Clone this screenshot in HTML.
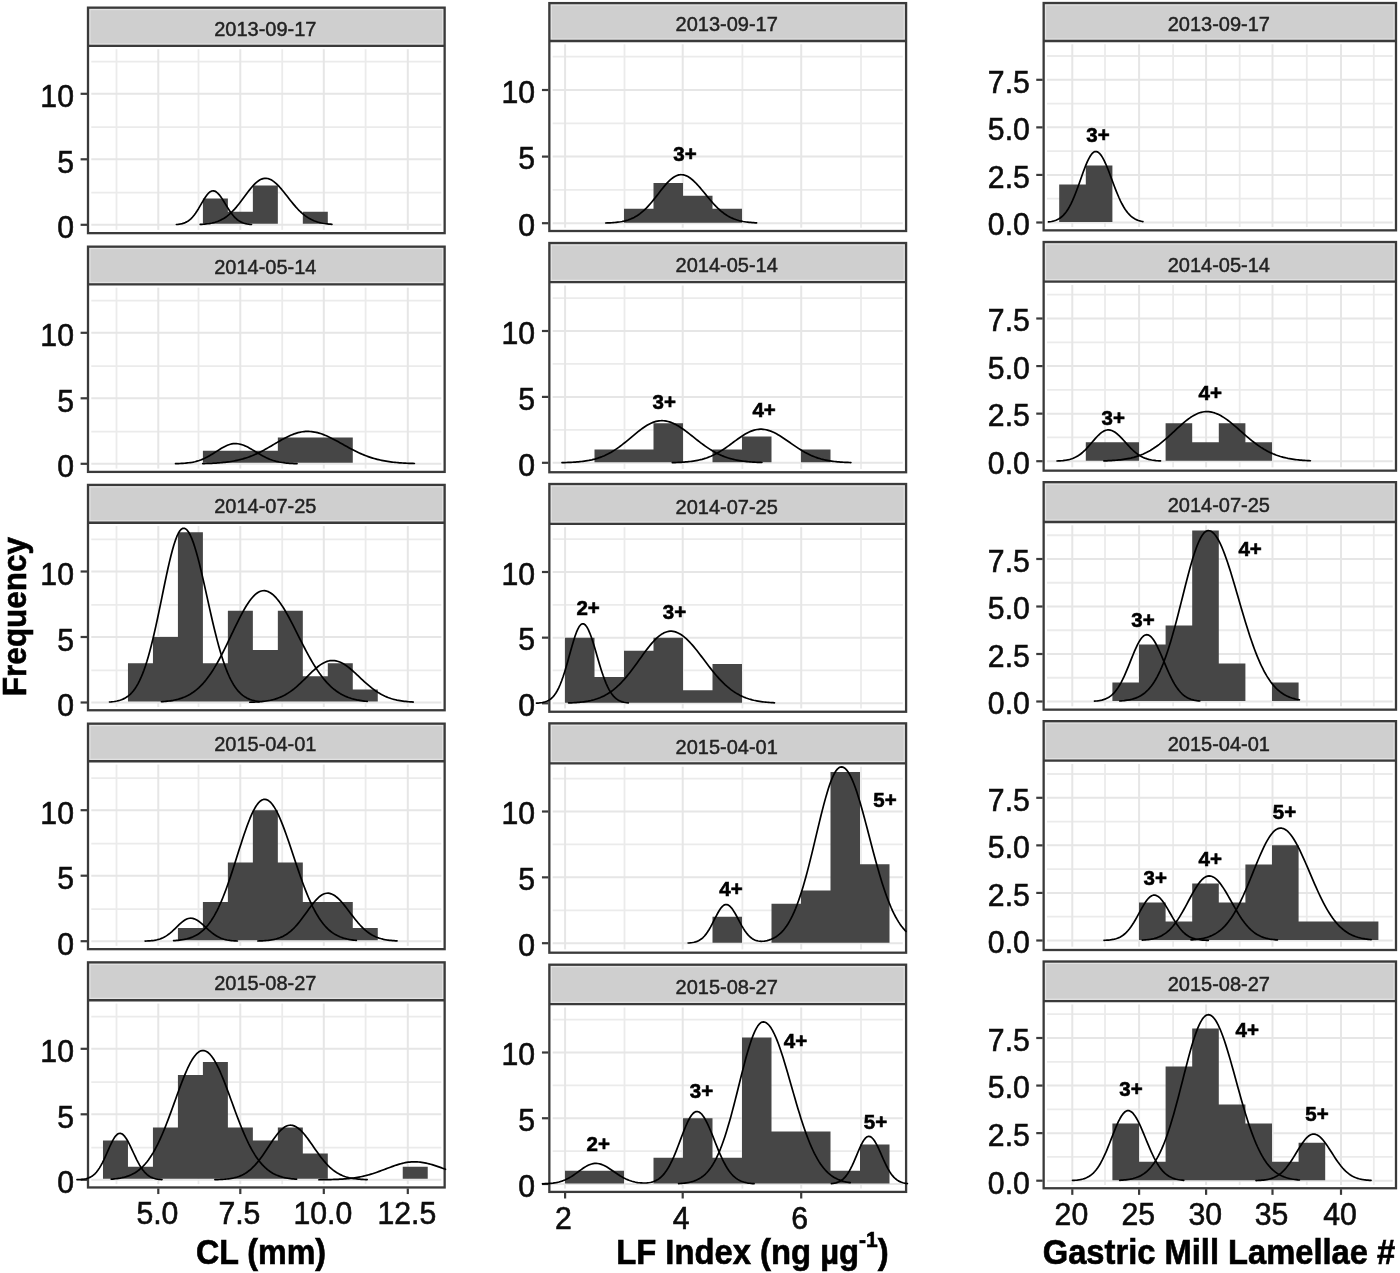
<!DOCTYPE html>
<html><head><meta charset="utf-8"><title>Frequency histograms</title>
<style>html,body{margin:0;padding:0;background:#fff}svg{display:block;filter:blur(0.55px)}</style></head>
<body>
<svg width="1400" height="1273" viewBox="0 0 1400 1273" font-family="Liberation Sans, sans-serif">
<rect width="1400" height="1273" fill="#fff"/>
<g>
<rect x="88" y="7.65" width="356.65" height="38.25" fill="#cfcfcf"/>
<rect x="89.9" y="9.55" width="352.85" height="34.45" fill="none" stroke="#e3e3e3" stroke-width="1.2"/>
<line x1="91.3" x2="441.35" y1="192.65" y2="192.65" stroke="#ebebeb" stroke-width="1.8"/>
<line x1="91.3" x2="441.35" y1="127.15" y2="127.15" stroke="#ebebeb" stroke-width="1.8"/>
<line x1="91.3" x2="441.35" y1="61.65" y2="61.65" stroke="#ebebeb" stroke-width="1.8"/>
<line x1="116.5" x2="116.5" y1="49.2" y2="229.85" stroke="#ebebeb" stroke-width="1.8"/>
<line x1="198.5" x2="198.5" y1="49.2" y2="229.85" stroke="#ebebeb" stroke-width="1.8"/>
<line x1="282.2" x2="282.2" y1="49.2" y2="229.85" stroke="#ebebeb" stroke-width="1.8"/>
<line x1="365.6" x2="365.6" y1="49.2" y2="229.85" stroke="#ebebeb" stroke-width="1.8"/>
<line x1="91.3" x2="441.35" y1="224.8" y2="224.8" stroke="#e6e6e6" stroke-width="2"/>
<line x1="91.3" x2="441.35" y1="159.3" y2="159.3" stroke="#e6e6e6" stroke-width="2"/>
<line x1="91.3" x2="441.35" y1="93.8" y2="93.8" stroke="#e6e6e6" stroke-width="2"/>
<line x1="158.3" x2="158.3" y1="49.2" y2="229.85" stroke="#e6e6e6" stroke-width="2"/>
<line x1="240.3" x2="240.3" y1="49.2" y2="229.85" stroke="#e6e6e6" stroke-width="2"/>
<line x1="323.8" x2="323.8" y1="49.2" y2="229.85" stroke="#e6e6e6" stroke-width="2"/>
<line x1="407.8" x2="407.8" y1="49.2" y2="229.85" stroke="#e6e6e6" stroke-width="2"/>
<path d="M202.9,223.8L202.9,198.6L227.88,198.6L227.88,211.7L252.86,211.7L252.86,185.5L277.84,185.5L277.84,223.8ZM302.82,223.8L302.82,211.7L327.8,211.7L327.8,223.8Z" fill="#464646"/>
<rect x="88" y="7.65" width="356.65" height="225.5" fill="none" stroke="#3a3a3a" stroke-width="2.3"/>
<line x1="88" x2="444.65" y1="45.9" y2="45.9" stroke="#3a3a3a" stroke-width="2.3"/>
<text x="265.32" y="36" font-size="20" text-anchor="middle" fill="#222" stroke="#222" stroke-width="0.45">2013-09-17</text>
<line x1="80.6" x2="87" y1="224.8" y2="224.8" stroke="#3a3a3a" stroke-width="2.2"/>
<text transform="translate(74,238.4) scale(0.975,1)" font-size="31" text-anchor="end" fill="#0d0d0d" stroke="#0d0d0d" stroke-width="0.6">0</text>
<line x1="80.6" x2="87" y1="159.3" y2="159.3" stroke="#3a3a3a" stroke-width="2.2"/>
<text transform="translate(74,172.9) scale(0.975,1)" font-size="31" text-anchor="end" fill="#0d0d0d" stroke="#0d0d0d" stroke-width="0.6">5</text>
<line x1="80.6" x2="87" y1="93.8" y2="93.8" stroke="#3a3a3a" stroke-width="2.2"/>
<text transform="translate(74,107.4) scale(0.975,1)" font-size="31" text-anchor="end" fill="#0d0d0d" stroke="#0d0d0d" stroke-width="0.6">10</text>
<polyline points="176.4,224.51 177.87,224.37 179.35,224.19 180.82,223.94 182.29,223.6 183.76,223.16 185.24,222.59 186.71,221.87 188.18,220.97 189.65,219.88 191.13,218.57 192.6,217.03 194.07,215.26 195.54,213.26 197.02,211.06 198.49,208.69 199.96,206.19 201.43,203.64 202.91,201.11 204.38,198.68 205.85,196.44 207.32,194.47 208.8,192.87 210.27,191.69 211.74,190.99 213.21,190.8 214.69,191.11 216.16,191.87 217.63,193.06 219.1,194.62 220.58,196.51 222.05,198.64 223.52,200.94 224.99,203.34 226.47,205.77 227.94,208.15 229.41,210.44 230.88,212.58 232.36,214.55 233.83,216.32 235.3,217.88 236.77,219.23 238.25,220.38 239.72,221.34 241.19,222.13 242.66,222.77 244.14,223.27 245.61,223.67 247.08,223.97 248.55,224.2 250.03,224.38 251.5,224.5" fill="none" stroke="#000" stroke-width="1.7" stroke-linejoin="round" stroke-linecap="round"/>
<polyline points="200.2,224.44 201.7,224.35 203.19,224.25 204.69,224.12 206.19,223.96 207.68,223.77 209.18,223.55 210.68,223.29 212.17,222.98 213.67,222.63 215.17,222.21 216.66,221.73 218.16,221.19 219.66,220.56 221.15,219.86 222.65,219.06 224.15,218.17 225.64,217.19 227.14,216.1 228.64,214.9 230.13,213.6 231.63,212.2 233.12,210.69 234.62,209.08 236.12,207.37 237.61,205.58 239.11,203.72 240.61,201.79 242.1,199.82 243.6,197.81 245.1,195.79 246.59,193.78 248.09,191.8 249.59,189.87 251.08,188.02 252.58,186.27 254.08,184.65 255.57,183.17 257.07,181.85 258.57,180.72 260.06,179.79 261.56,179.08 263.06,178.59 264.55,178.34 266.05,178.32 267.55,178.52 269.04,178.93 270.54,179.55 272.04,180.37 273.53,181.37 275.03,182.55 276.53,183.88 278.02,185.36 279.52,186.95 281.02,188.66 282.51,190.44 284.01,192.28 285.51,194.17 287,196.09 288.5,198 290,199.91 291.49,201.78 292.99,203.62 294.49,205.39 295.98,207.1 297.48,208.74 298.97,210.29 300.47,211.75 301.97,213.12 303.46,214.39 304.96,215.57 306.46,216.65 307.95,217.64 309.45,218.54 310.95,219.35 312.44,220.07 313.94,220.72 315.44,221.3 316.93,221.81 318.43,222.25 319.93,222.64 321.42,222.98 322.92,223.28 324.42,223.53 325.91,223.74 327.41,223.92 328.91,224.08 330.4,224.21 331.9,224.32" fill="none" stroke="#000" stroke-width="1.7" stroke-linejoin="round" stroke-linecap="round"/>
</g>
<g>
<rect x="88" y="246.65" width="356.65" height="37.7" fill="#cfcfcf"/>
<rect x="89.9" y="248.55" width="352.85" height="33.9" fill="none" stroke="#e3e3e3" stroke-width="1.2"/>
<line x1="91.3" x2="441.35" y1="431.65" y2="431.65" stroke="#ebebeb" stroke-width="1.8"/>
<line x1="91.3" x2="441.35" y1="366.15" y2="366.15" stroke="#ebebeb" stroke-width="1.8"/>
<line x1="91.3" x2="441.35" y1="300.65" y2="300.65" stroke="#ebebeb" stroke-width="1.8"/>
<line x1="116.5" x2="116.5" y1="287.65" y2="468.6" stroke="#ebebeb" stroke-width="1.8"/>
<line x1="198.5" x2="198.5" y1="287.65" y2="468.6" stroke="#ebebeb" stroke-width="1.8"/>
<line x1="282.2" x2="282.2" y1="287.65" y2="468.6" stroke="#ebebeb" stroke-width="1.8"/>
<line x1="365.6" x2="365.6" y1="287.65" y2="468.6" stroke="#ebebeb" stroke-width="1.8"/>
<line x1="91.3" x2="441.35" y1="463.8" y2="463.8" stroke="#e6e6e6" stroke-width="2"/>
<line x1="91.3" x2="441.35" y1="398.3" y2="398.3" stroke="#e6e6e6" stroke-width="2"/>
<line x1="91.3" x2="441.35" y1="332.8" y2="332.8" stroke="#e6e6e6" stroke-width="2"/>
<line x1="158.3" x2="158.3" y1="287.65" y2="468.6" stroke="#e6e6e6" stroke-width="2"/>
<line x1="240.3" x2="240.3" y1="287.65" y2="468.6" stroke="#e6e6e6" stroke-width="2"/>
<line x1="323.8" x2="323.8" y1="287.65" y2="468.6" stroke="#e6e6e6" stroke-width="2"/>
<line x1="407.8" x2="407.8" y1="287.65" y2="468.6" stroke="#e6e6e6" stroke-width="2"/>
<path d="M202.9,462.8L202.9,450.7L227.88,450.7L227.88,450.7L252.86,450.7L252.86,450.7L277.84,450.7L277.84,437.6L302.82,437.6L302.82,437.6L327.8,437.6L327.8,437.6L352.78,437.6L352.78,462.8Z" fill="#464646"/>
<rect x="88" y="246.65" width="356.65" height="225.25" fill="none" stroke="#3a3a3a" stroke-width="2.3"/>
<line x1="88" x2="444.65" y1="284.35" y2="284.35" stroke="#3a3a3a" stroke-width="2.3"/>
<text x="265.32" y="274.45" font-size="20" text-anchor="middle" fill="#222" stroke="#222" stroke-width="0.45">2014-05-14</text>
<line x1="80.6" x2="87" y1="463.8" y2="463.8" stroke="#3a3a3a" stroke-width="2.2"/>
<text transform="translate(74,477.4) scale(0.975,1)" font-size="31" text-anchor="end" fill="#0d0d0d" stroke="#0d0d0d" stroke-width="0.6">0</text>
<line x1="80.6" x2="87" y1="398.3" y2="398.3" stroke="#3a3a3a" stroke-width="2.2"/>
<text transform="translate(74,411.9) scale(0.975,1)" font-size="31" text-anchor="end" fill="#0d0d0d" stroke="#0d0d0d" stroke-width="0.6">5</text>
<line x1="80.6" x2="87" y1="332.8" y2="332.8" stroke="#3a3a3a" stroke-width="2.2"/>
<text transform="translate(74,346.4) scale(0.975,1)" font-size="31" text-anchor="end" fill="#0d0d0d" stroke="#0d0d0d" stroke-width="0.6">10</text>
<polyline points="175.5,463.66 176.98,463.62 178.46,463.57 179.95,463.51 181.43,463.44 182.91,463.35 184.39,463.24 185.87,463.11 187.35,462.96 188.84,462.78 190.32,462.57 191.8,462.33 193.28,462.05 194.76,461.73 196.24,461.36 197.73,460.94 199.21,460.48 200.69,459.96 202.17,459.38 203.65,458.75 205.13,458.07 206.62,457.34 208.1,456.55 209.58,455.72 211.06,454.85 212.54,453.94 214.02,453.01 215.51,452.06 216.99,451.1 218.47,450.16 219.95,449.22 221.43,448.32 222.91,447.47 224.4,446.67 225.88,445.94 227.36,445.29 228.84,444.73 230.32,444.28 231.8,443.94 233.29,443.71 234.77,443.61 236.25,443.62 237.73,443.75 239.21,443.98 240.7,444.32 242.18,444.76 243.66,445.29 245.14,445.9 246.62,446.59 248.1,447.34 249.59,448.15 251.07,449 252.55,449.87 254.03,450.77 255.51,451.68 256.99,452.58 258.48,453.48 259.96,454.35 261.44,455.2 262.92,456.02 264.4,456.79 265.88,457.53 267.37,458.21 268.85,458.85 270.33,459.44 271.81,459.98 273.29,460.48 274.77,460.92 276.26,461.32 277.74,461.67 279.22,461.99 280.7,462.26 282.18,462.51 283.66,462.71 285.15,462.9 286.63,463.05 288.11,463.18 289.59,463.29 291.07,463.39 292.55,463.46 294.04,463.53 295.52,463.58 297,463.63" fill="none" stroke="#000" stroke-width="1.7" stroke-linejoin="round" stroke-linecap="round"/>
<polyline points="202.7,463.57 204.19,463.54 205.68,463.5 207.17,463.46 208.66,463.41 210.15,463.35 211.65,463.29 213.14,463.22 214.63,463.14 216.12,463.06 217.61,462.96 219.1,462.85 220.59,462.74 222.08,462.6 223.57,462.46 225.06,462.3 226.55,462.13 228.04,461.94 229.54,461.73 231.03,461.5 232.52,461.25 234.01,460.98 235.5,460.69 236.99,460.38 238.48,460.04 239.97,459.68 241.46,459.29 242.95,458.88 244.44,458.43 245.93,457.96 247.43,457.47 248.92,456.94 250.41,456.38 251.9,455.8 253.39,455.18 254.88,454.54 256.37,453.87 257.86,453.17 259.35,452.44 260.84,451.69 262.33,450.92 263.82,450.13 265.32,449.31 266.81,448.48 268.3,447.63 269.79,446.77 271.28,445.9 272.77,445.02 274.26,444.14 275.75,443.26 277.24,442.38 278.73,441.52 280.22,440.66 281.71,439.81 283.21,438.99 284.7,438.19 286.19,437.42 287.68,436.67 289.17,435.97 290.66,435.3 292.15,434.67 293.64,434.1 295.13,433.57 296.62,433.09 298.11,432.67 299.6,432.3 301.1,432 302.59,431.75 304.08,431.57 305.57,431.45 307.06,431.4 308.55,431.41 310.04,431.49 311.53,431.61 313.02,431.8 314.51,432.04 316,432.34 317.5,432.69 318.99,433.1 320.48,433.55 321.97,434.05 323.46,434.6 324.95,435.19 326.44,435.81 327.93,436.48 329.42,437.17 330.91,437.9 332.4,438.65 333.89,439.42 335.39,440.21 336.88,441.02 338.37,441.84 339.86,442.67 341.35,443.5 342.84,444.34 344.33,445.18 345.82,446.01 347.31,446.83 348.8,447.65 350.29,448.46 351.78,449.25 353.28,450.02 354.77,450.78 356.26,451.52 357.75,452.24 359.24,452.93 360.73,453.61 362.22,454.26 363.71,454.88 365.2,455.48 366.69,456.05 368.18,456.59 369.67,457.11 371.17,457.6 372.66,458.07 374.15,458.51 375.64,458.93 377.13,459.32 378.62,459.69 380.11,460.03 381.6,460.35 383.09,460.65 384.58,460.93 386.07,461.19 387.56,461.43 389.06,461.65 390.55,461.86 392.04,462.05 393.53,462.22 395.02,462.38 396.51,462.52 398,462.66 399.49,462.78 400.98,462.88 402.47,462.98 403.96,463.07 405.45,463.15 406.95,463.23 408.44,463.29 409.93,463.35 411.42,463.41 412.91,463.45 414.4,463.49" fill="none" stroke="#000" stroke-width="1.7" stroke-linejoin="round" stroke-linecap="round"/>
</g>
<g>
<rect x="88" y="484.9" width="356.65" height="37.85" fill="#cfcfcf"/>
<rect x="89.9" y="486.8" width="352.85" height="34.05" fill="none" stroke="#e3e3e3" stroke-width="1.2"/>
<line x1="91.3" x2="441.35" y1="670.35" y2="670.35" stroke="#ebebeb" stroke-width="1.8"/>
<line x1="91.3" x2="441.35" y1="604.85" y2="604.85" stroke="#ebebeb" stroke-width="1.8"/>
<line x1="91.3" x2="441.35" y1="539.35" y2="539.35" stroke="#ebebeb" stroke-width="1.8"/>
<line x1="116.5" x2="116.5" y1="526.05" y2="706.95" stroke="#ebebeb" stroke-width="1.8"/>
<line x1="198.5" x2="198.5" y1="526.05" y2="706.95" stroke="#ebebeb" stroke-width="1.8"/>
<line x1="282.2" x2="282.2" y1="526.05" y2="706.95" stroke="#ebebeb" stroke-width="1.8"/>
<line x1="365.6" x2="365.6" y1="526.05" y2="706.95" stroke="#ebebeb" stroke-width="1.8"/>
<line x1="91.3" x2="441.35" y1="702.5" y2="702.5" stroke="#e6e6e6" stroke-width="2"/>
<line x1="91.3" x2="441.35" y1="637" y2="637" stroke="#e6e6e6" stroke-width="2"/>
<line x1="91.3" x2="441.35" y1="571.5" y2="571.5" stroke="#e6e6e6" stroke-width="2"/>
<line x1="158.3" x2="158.3" y1="526.05" y2="706.95" stroke="#e6e6e6" stroke-width="2"/>
<line x1="240.3" x2="240.3" y1="526.05" y2="706.95" stroke="#e6e6e6" stroke-width="2"/>
<line x1="323.8" x2="323.8" y1="526.05" y2="706.95" stroke="#e6e6e6" stroke-width="2"/>
<line x1="407.8" x2="407.8" y1="526.05" y2="706.95" stroke="#e6e6e6" stroke-width="2"/>
<path d="M127.96,701.5L127.96,663.2L152.94,663.2L152.94,637L177.92,637L177.92,532.2L202.9,532.2L202.9,663.2L227.88,663.2L227.88,610.8L252.86,610.8L252.86,650.1L277.84,650.1L277.84,610.8L302.82,610.8L302.82,676.3L327.8,676.3L327.8,663.2L352.78,663.2L352.78,689.4L377.76,689.4L377.76,701.5Z" fill="#464646"/>
<rect x="88" y="484.9" width="356.65" height="225.35" fill="none" stroke="#3a3a3a" stroke-width="2.3"/>
<line x1="88" x2="444.65" y1="522.75" y2="522.75" stroke="#3a3a3a" stroke-width="2.3"/>
<text x="265.32" y="512.85" font-size="20" text-anchor="middle" fill="#222" stroke="#222" stroke-width="0.45">2014-07-25</text>
<line x1="80.6" x2="87" y1="702.5" y2="702.5" stroke="#3a3a3a" stroke-width="2.2"/>
<text transform="translate(74,716.1) scale(0.975,1)" font-size="31" text-anchor="end" fill="#0d0d0d" stroke="#0d0d0d" stroke-width="0.6">0</text>
<line x1="80.6" x2="87" y1="637" y2="637" stroke="#3a3a3a" stroke-width="2.2"/>
<text transform="translate(74,650.6) scale(0.975,1)" font-size="31" text-anchor="end" fill="#0d0d0d" stroke="#0d0d0d" stroke-width="0.6">5</text>
<line x1="80.6" x2="87" y1="571.5" y2="571.5" stroke="#3a3a3a" stroke-width="2.2"/>
<text transform="translate(74,585.1) scale(0.975,1)" font-size="31" text-anchor="end" fill="#0d0d0d" stroke="#0d0d0d" stroke-width="0.6">10</text>
<polyline points="109.5,702.01 111,701.89 112.49,701.73 113.99,701.53 115.49,701.29 116.98,701 118.48,700.65 119.98,700.22 121.48,699.71 122.97,699.11 124.47,698.39 125.97,697.54 127.46,696.55 128.96,695.39 130.46,694.05 131.95,692.5 133.45,690.73 134.95,688.71 136.45,686.41 137.94,683.83 139.44,680.94 140.94,677.72 142.43,674.15 143.93,670.22 145.43,665.93 146.93,661.26 148.42,656.23 149.92,650.82 151.42,645.06 152.91,638.96 154.41,632.56 155.91,625.88 157.4,618.96 158.9,611.85 160.4,604.61 161.9,597.3 163.39,589.98 164.89,582.73 166.39,575.62 167.88,568.74 169.38,562.16 170.88,555.96 172.37,550.22 173.87,545.01 175.37,540.41 176.87,536.47 178.36,533.25 179.86,530.79 181.36,529.14 182.85,528.3 184.35,528.29 185.85,529 187.34,530.42 188.84,532.52 190.34,535.28 191.83,538.67 193.33,542.64 194.83,547.16 196.33,552.16 197.82,557.6 199.32,563.41 200.82,569.53 202.31,575.91 203.81,582.47 205.31,589.15 206.81,595.9 208.3,602.66 209.8,609.37 211.3,615.98 212.79,622.46 214.29,628.75 215.79,634.82 217.28,640.65 218.78,646.21 220.28,651.47 221.78,656.44 223.27,661.09 224.77,665.42 226.27,669.43 227.76,673.13 229.26,676.53 230.76,679.62 232.25,682.43 233.75,684.97 235.25,687.24 236.74,689.28 238.24,691.09 239.74,692.69 241.24,694.11 242.73,695.35 244.23,696.43 245.73,697.36 247.22,698.18 248.72,698.87 250.22,699.47 251.71,699.98 253.21,700.41 254.71,700.78 256.21,701.09 257.7,701.34 259.2,701.56" fill="none" stroke="#000" stroke-width="1.7" stroke-linejoin="round" stroke-linecap="round"/>
<polyline points="161.4,701.77 162.89,701.65 164.38,701.52 165.87,701.37 167.37,701.2 168.86,701.01 170.35,700.8 171.84,700.56 173.33,700.29 174.82,699.98 176.31,699.65 177.8,699.27 179.3,698.85 180.79,698.39 182.28,697.87 183.77,697.31 185.26,696.68 186.75,696 188.24,695.25 189.73,694.43 191.23,693.54 192.72,692.57 194.21,691.52 195.7,690.39 197.19,689.16 198.68,687.85 200.17,686.44 201.67,684.93 203.16,683.31 204.65,681.6 206.14,679.78 207.63,677.85 209.12,675.82 210.61,673.68 212.1,671.44 213.6,669.09 215.09,666.65 216.58,664.1 218.07,661.46 219.56,658.74 221.05,655.93 222.54,653.05 224.03,650.1 225.53,647.1 227.02,644.04 228.51,640.95 230,637.84 231.49,634.71 232.98,631.58 234.47,628.46 235.97,625.38 237.46,622.33 238.95,619.34 240.44,616.43 241.93,613.6 243.42,610.88 244.91,608.27 246.4,605.79 247.9,603.46 249.39,601.29 250.88,599.3 252.37,597.49 253.86,595.87 255.35,594.46 256.84,593.26 258.33,592.29 259.83,591.54 261.32,591.03 262.81,590.75 264.3,590.71 265.79,590.89 267.28,591.28 268.77,591.89 270.27,592.7 271.76,593.72 273.25,594.93 274.74,596.34 276.23,597.93 277.72,599.69 279.21,601.62 280.7,603.7 282.2,605.92 283.69,608.28 285.18,610.75 286.67,613.33 288.16,616.01 289.65,618.77 291.14,621.59 292.63,624.47 294.13,627.39 295.62,630.34 297.11,633.31 298.6,636.29 300.09,639.25 301.58,642.2 303.07,645.13 304.57,648.01 306.06,650.86 307.55,653.64 309.04,656.37 310.53,659.02 312.02,661.61 313.51,664.11 315,666.53 316.5,668.86 317.99,671.1 319.48,673.25 320.97,675.3 322.46,677.26 323.95,679.12 325.44,680.89 326.93,682.56 328.43,684.14 329.92,685.62 331.41,687.02 332.9,688.32 334.39,689.55 335.88,690.69 337.37,691.74 338.87,692.73 340.36,693.64 341.85,694.48 343.34,695.25 344.83,695.97 346.32,696.62 347.81,697.22 349.3,697.77 350.8,698.27 352.29,698.72 353.78,699.13 355.27,699.5 356.76,699.84 358.25,700.14 359.74,700.41 361.23,700.66 362.73,700.88 364.22,701.07 365.71,701.25 367.2,701.4" fill="none" stroke="#000" stroke-width="1.7" stroke-linejoin="round" stroke-linecap="round"/>
<polyline points="249.7,702.27 251.19,702.22 252.67,702.16 254.16,702.1 255.65,702.02 257.14,701.93 258.62,701.83 260.11,701.71 261.6,701.57 263.09,701.41 264.57,701.23 266.06,701.02 267.55,700.78 269.03,700.51 270.52,700.21 272.01,699.87 273.5,699.49 274.98,699.07 276.47,698.6 277.96,698.08 279.45,697.51 280.93,696.89 282.42,696.21 283.91,695.47 285.39,694.67 286.88,693.8 288.37,692.88 289.86,691.89 291.34,690.83 292.83,689.72 294.32,688.55 295.81,687.32 297.29,686.04 298.78,684.71 300.27,683.34 301.75,681.93 303.24,680.49 304.73,679.03 306.22,677.56 307.7,676.08 309.19,674.61 310.68,673.16 312.17,671.73 313.65,670.34 315.14,669.01 316.63,667.74 318.11,666.53 319.6,665.42 321.09,664.39 322.58,663.47 324.06,662.66 325.55,661.97 327.04,661.41 328.53,660.98 330.01,660.68 331.5,660.53 332.99,660.51 334.47,660.62 335.96,660.86 337.45,661.23 338.94,661.71 340.42,662.31 341.91,663.03 343.4,663.84 344.89,664.76 346.37,665.76 347.86,666.85 349.35,668.01 350.83,669.23 352.32,670.51 353.81,671.83 355.3,673.18 356.78,674.57 358.27,675.96 359.76,677.36 361.25,678.76 362.73,680.15 364.22,681.53 365.71,682.88 367.19,684.19 368.68,685.47 370.17,686.71 371.66,687.9 373.14,689.05 374.63,690.14 376.12,691.18 377.61,692.16 379.09,693.08 380.58,693.95 382.07,694.77 383.55,695.52 385.04,696.22 386.53,696.87 388.02,697.47 389.5,698.01 390.99,698.51 392.48,698.97 393.97,699.38 395.45,699.75 396.94,700.09 398.43,700.39 399.91,700.66 401.4,700.9 402.89,701.11 404.38,701.3 405.86,701.46 407.35,701.61 408.84,701.74 410.33,701.85 411.81,701.94 413.3,702.03" fill="none" stroke="#000" stroke-width="1.7" stroke-linejoin="round" stroke-linecap="round"/>
</g>
<g>
<rect x="88" y="723.65" width="356.65" height="37.6" fill="#cfcfcf"/>
<rect x="89.9" y="725.55" width="352.85" height="33.8" fill="none" stroke="#e3e3e3" stroke-width="1.2"/>
<line x1="91.3" x2="441.35" y1="909.05" y2="909.05" stroke="#ebebeb" stroke-width="1.8"/>
<line x1="91.3" x2="441.35" y1="843.55" y2="843.55" stroke="#ebebeb" stroke-width="1.8"/>
<line x1="91.3" x2="441.35" y1="778.05" y2="778.05" stroke="#ebebeb" stroke-width="1.8"/>
<line x1="116.5" x2="116.5" y1="764.55" y2="945.85" stroke="#ebebeb" stroke-width="1.8"/>
<line x1="198.5" x2="198.5" y1="764.55" y2="945.85" stroke="#ebebeb" stroke-width="1.8"/>
<line x1="282.2" x2="282.2" y1="764.55" y2="945.85" stroke="#ebebeb" stroke-width="1.8"/>
<line x1="365.6" x2="365.6" y1="764.55" y2="945.85" stroke="#ebebeb" stroke-width="1.8"/>
<line x1="91.3" x2="441.35" y1="941.2" y2="941.2" stroke="#e6e6e6" stroke-width="2"/>
<line x1="91.3" x2="441.35" y1="875.7" y2="875.7" stroke="#e6e6e6" stroke-width="2"/>
<line x1="91.3" x2="441.35" y1="810.2" y2="810.2" stroke="#e6e6e6" stroke-width="2"/>
<line x1="158.3" x2="158.3" y1="764.55" y2="945.85" stroke="#e6e6e6" stroke-width="2"/>
<line x1="240.3" x2="240.3" y1="764.55" y2="945.85" stroke="#e6e6e6" stroke-width="2"/>
<line x1="323.8" x2="323.8" y1="764.55" y2="945.85" stroke="#e6e6e6" stroke-width="2"/>
<line x1="407.8" x2="407.8" y1="764.55" y2="945.85" stroke="#e6e6e6" stroke-width="2"/>
<path d="M177.92,940.2L177.92,928.1L202.9,928.1L202.9,901.9L227.88,901.9L227.88,862.6L252.86,862.6L252.86,810.2L277.84,810.2L277.84,862.6L302.82,862.6L302.82,901.9L327.8,901.9L327.8,901.9L352.78,901.9L352.78,928.1L377.76,928.1L377.76,940.2Z" fill="#464646"/>
<rect x="88" y="723.65" width="356.65" height="225.5" fill="none" stroke="#3a3a3a" stroke-width="2.3"/>
<line x1="88" x2="444.65" y1="761.25" y2="761.25" stroke="#3a3a3a" stroke-width="2.3"/>
<text x="265.32" y="751.35" font-size="20" text-anchor="middle" fill="#222" stroke="#222" stroke-width="0.45">2015-04-01</text>
<line x1="80.6" x2="87" y1="941.2" y2="941.2" stroke="#3a3a3a" stroke-width="2.2"/>
<text transform="translate(74,954.8) scale(0.975,1)" font-size="31" text-anchor="end" fill="#0d0d0d" stroke="#0d0d0d" stroke-width="0.6">0</text>
<line x1="80.6" x2="87" y1="875.7" y2="875.7" stroke="#3a3a3a" stroke-width="2.2"/>
<text transform="translate(74,889.3) scale(0.975,1)" font-size="31" text-anchor="end" fill="#0d0d0d" stroke="#0d0d0d" stroke-width="0.6">5</text>
<line x1="80.6" x2="87" y1="810.2" y2="810.2" stroke="#3a3a3a" stroke-width="2.2"/>
<text transform="translate(74,823.8) scale(0.975,1)" font-size="31" text-anchor="end" fill="#0d0d0d" stroke="#0d0d0d" stroke-width="0.6">10</text>
<polyline points="145.1,941.06 146.59,941.01 148.08,940.94 149.57,940.84 151.05,940.72 152.54,940.56 154.03,940.36 155.52,940.11 157.01,939.79 158.5,939.41 159.99,938.95 161.48,938.39 162.96,937.74 164.45,936.98 165.94,936.12 167.43,935.14 168.92,934.05 170.41,932.86 171.9,931.57 173.39,930.21 174.87,928.79 176.36,927.34 177.85,925.88 179.34,924.46 180.83,923.11 182.32,921.85 183.81,920.74 185.3,919.8 186.78,919.05 188.27,918.53 189.76,918.25 191.25,918.22 192.74,918.41 194.23,918.83 195.72,919.45 197.2,920.26 198.69,921.24 200.18,922.37 201.67,923.6 203.16,924.91 204.65,926.27 206.14,927.66 207.63,929.03 209.11,930.37 210.6,931.66 212.09,932.88 213.58,934.01 215.07,935.05 216.56,935.99 218.05,936.84 219.54,937.58 221.02,938.22 222.51,938.77 224,939.24 225.49,939.64 226.98,939.97 228.47,940.23 229.96,940.45 231.45,940.63 232.93,940.76 234.42,940.87 235.91,940.96 237.4,941.02" fill="none" stroke="#000" stroke-width="1.7" stroke-linejoin="round" stroke-linecap="round"/>
<polyline points="173.6,940.68 175.1,940.58 176.6,940.45 178.09,940.31 179.59,940.14 181.09,939.94 182.59,939.71 184.08,939.44 185.58,939.13 187.08,938.78 188.58,938.37 190.07,937.9 191.57,937.37 193.07,936.77 194.57,936.08 196.06,935.31 197.56,934.44 199.06,933.47 200.56,932.38 202.05,931.17 203.55,929.83 205.05,928.35 206.55,926.73 208.04,924.94 209.54,922.99 211.04,920.87 212.54,918.57 214.03,916.09 215.53,913.42 217.03,910.56 218.53,907.51 220.02,904.26 221.52,900.83 223.02,897.21 224.52,893.41 226.01,889.44 227.51,885.31 229.01,881.03 230.51,876.62 232,872.11 233.5,867.49 235,862.81 236.5,858.09 237.99,853.35 239.49,848.61 240.99,843.92 242.49,839.31 243.98,834.79 245.48,830.42 246.98,826.21 248.48,822.21 249.97,818.44 251.47,814.93 252.97,811.72 254.47,808.83 255.96,806.29 257.46,804.11 258.96,802.32 260.46,800.94 261.95,799.97 263.45,799.43 264.95,799.31 266.45,799.6 267.95,800.27 269.44,801.32 270.94,802.74 272.44,804.53 273.94,806.66 275.43,809.12 276.93,811.89 278.43,814.95 279.93,818.28 281.42,821.84 282.92,825.62 284.42,829.59 285.92,833.71 287.41,837.97 288.91,842.33 290.41,846.76 291.91,851.24 293.4,855.75 294.9,860.25 296.4,864.72 297.9,869.14 299.39,873.5 300.89,877.76 302.39,881.92 303.89,885.96 305.38,889.86 306.88,893.62 308.38,897.23 309.88,900.67 311.37,903.95 312.87,907.05 314.37,909.98 315.87,912.74 317.36,915.32 318.86,917.74 320.36,919.99 321.86,922.07 323.35,924 324.85,925.77 326.35,927.4 327.85,928.9 329.34,930.26 330.84,931.49 332.34,932.61 333.84,933.63 335.33,934.54 336.83,935.35 338.33,936.08 339.83,936.74 341.32,937.32 342.82,937.83 344.32,938.28 345.82,938.68 347.31,939.03 348.81,939.34 350.31,939.61 351.81,939.84 353.3,940.04 354.8,940.22 356.3,940.37" fill="none" stroke="#000" stroke-width="1.7" stroke-linejoin="round" stroke-linecap="round"/>
<polyline points="257.8,941.02 259.3,940.97 260.79,940.91 262.29,940.84 263.79,940.75 265.28,940.64 266.78,940.5 268.28,940.35 269.77,940.16 271.27,939.93 272.77,939.66 274.26,939.35 275.76,938.99 277.26,938.56 278.75,938.07 280.25,937.51 281.75,936.87 283.25,936.15 284.74,935.34 286.24,934.43 287.74,933.42 289.23,932.3 290.73,931.07 292.23,929.74 293.72,928.3 295.22,926.75 296.72,925.09 298.21,923.34 299.71,921.5 301.21,919.58 302.7,917.59 304.2,915.55 305.7,913.48 307.19,911.4 308.69,909.32 310.19,907.28 311.68,905.28 313.18,903.37 314.68,901.55 316.17,899.86 317.67,898.32 319.17,896.95 320.66,895.77 322.16,894.8 323.66,894.05 325.15,893.53 326.65,893.25 328.15,893.21 329.65,893.41 331.14,893.82 332.64,894.44 334.14,895.27 335.63,896.29 337.13,897.5 338.63,898.87 340.12,900.38 341.62,902.02 343.12,903.77 344.61,905.61 346.11,907.51 347.61,909.46 349.1,911.43 350.6,913.41 352.1,915.38 353.59,917.32 355.09,919.21 356.59,921.05 358.08,922.82 359.58,924.51 361.08,926.12 362.57,927.63 364.07,929.05 365.57,930.37 367.06,931.6 368.56,932.72 370.06,933.74 371.55,934.68 373.05,935.52 374.55,936.28 376.05,936.95 377.54,937.55 379.04,938.08 380.54,938.55 382.03,938.95 383.53,939.3 385.03,939.61 386.52,939.87 388.02,940.09 389.52,940.29 391.01,940.45 392.51,940.58 394.01,940.7 395.5,940.79 397,940.87" fill="none" stroke="#000" stroke-width="1.7" stroke-linejoin="round" stroke-linecap="round"/>
</g>
<g>
<rect x="88" y="962.35" width="356.65" height="37.9" fill="#cfcfcf"/>
<rect x="89.9" y="964.25" width="352.85" height="34.1" fill="none" stroke="#e3e3e3" stroke-width="1.2"/>
<line x1="91.3" x2="441.35" y1="1147.65" y2="1147.65" stroke="#ebebeb" stroke-width="1.8"/>
<line x1="91.3" x2="441.35" y1="1082.15" y2="1082.15" stroke="#ebebeb" stroke-width="1.8"/>
<line x1="91.3" x2="441.35" y1="1016.65" y2="1016.65" stroke="#ebebeb" stroke-width="1.8"/>
<line x1="116.5" x2="116.5" y1="1003.55" y2="1184.15" stroke="#ebebeb" stroke-width="1.8"/>
<line x1="198.5" x2="198.5" y1="1003.55" y2="1184.15" stroke="#ebebeb" stroke-width="1.8"/>
<line x1="282.2" x2="282.2" y1="1003.55" y2="1184.15" stroke="#ebebeb" stroke-width="1.8"/>
<line x1="365.6" x2="365.6" y1="1003.55" y2="1184.15" stroke="#ebebeb" stroke-width="1.8"/>
<line x1="91.3" x2="441.35" y1="1179.8" y2="1179.8" stroke="#e6e6e6" stroke-width="2"/>
<line x1="91.3" x2="441.35" y1="1114.3" y2="1114.3" stroke="#e6e6e6" stroke-width="2"/>
<line x1="91.3" x2="441.35" y1="1048.8" y2="1048.8" stroke="#e6e6e6" stroke-width="2"/>
<line x1="158.3" x2="158.3" y1="1003.55" y2="1184.15" stroke="#e6e6e6" stroke-width="2"/>
<line x1="240.3" x2="240.3" y1="1003.55" y2="1184.15" stroke="#e6e6e6" stroke-width="2"/>
<line x1="323.8" x2="323.8" y1="1003.55" y2="1184.15" stroke="#e6e6e6" stroke-width="2"/>
<line x1="407.8" x2="407.8" y1="1003.55" y2="1184.15" stroke="#e6e6e6" stroke-width="2"/>
<path d="M102.98,1178.8L102.98,1140.5L127.96,1140.5L127.96,1166.7L152.94,1166.7L152.94,1127.4L177.92,1127.4L177.92,1075L202.9,1075L202.9,1061.9L227.88,1061.9L227.88,1127.4L252.86,1127.4L252.86,1140.5L277.84,1140.5L277.84,1127.4L302.82,1127.4L302.82,1153.6L327.8,1153.6L327.8,1178.8ZM402.74,1178.8L402.74,1166.7L427.72,1166.7L427.72,1178.8Z" fill="#464646"/>
<rect x="88" y="962.35" width="356.65" height="225.1" fill="none" stroke="#3a3a3a" stroke-width="2.3"/>
<line x1="88" x2="444.65" y1="1000.25" y2="1000.25" stroke="#3a3a3a" stroke-width="2.3"/>
<text x="265.32" y="990.35" font-size="20" text-anchor="middle" fill="#222" stroke="#222" stroke-width="0.45">2015-08-27</text>
<line x1="80.6" x2="87" y1="1179.8" y2="1179.8" stroke="#3a3a3a" stroke-width="2.2"/>
<text transform="translate(74,1193.4) scale(0.975,1)" font-size="31" text-anchor="end" fill="#0d0d0d" stroke="#0d0d0d" stroke-width="0.6">0</text>
<line x1="80.6" x2="87" y1="1114.3" y2="1114.3" stroke="#3a3a3a" stroke-width="2.2"/>
<text transform="translate(74,1127.9) scale(0.975,1)" font-size="31" text-anchor="end" fill="#0d0d0d" stroke="#0d0d0d" stroke-width="0.6">5</text>
<line x1="80.6" x2="87" y1="1048.8" y2="1048.8" stroke="#3a3a3a" stroke-width="2.2"/>
<text transform="translate(74,1062.4) scale(0.975,1)" font-size="31" text-anchor="end" fill="#0d0d0d" stroke="#0d0d0d" stroke-width="0.6">10</text>
<polyline points="77,1179.69 78.49,1179.63 79.98,1179.55 81.47,1179.43 82.96,1179.27 84.46,1179.04 85.95,1178.74 87.44,1178.33 88.93,1177.8 90.42,1177.11 91.91,1176.23 93.4,1175.14 94.89,1173.81 96.39,1172.21 97.88,1170.32 99.37,1168.12 100.86,1165.63 102.35,1162.86 103.84,1159.83 105.33,1156.61 106.82,1153.25 108.32,1149.85 109.81,1146.5 111.3,1143.32 112.79,1140.4 114.28,1137.87 115.77,1135.83 117.26,1134.35 118.75,1133.5 120.25,1133.32 121.74,1133.76 123.23,1134.8 124.72,1136.39 126.21,1138.47 127.7,1140.96 129.19,1143.78 130.68,1146.84 132.18,1150.03 133.67,1153.26 135.16,1156.45 136.65,1159.52 138.14,1162.42 139.63,1165.1 141.12,1167.53 142.61,1169.69 144.11,1171.58 145.6,1173.21 147.09,1174.58 148.58,1175.72 150.07,1176.65 151.56,1177.4 153.05,1178 154.54,1178.47 156.04,1178.82 157.53,1179.09 159.02,1179.3 160.51,1179.45 162,1179.55" fill="none" stroke="#000" stroke-width="1.7" stroke-linejoin="round" stroke-linecap="round"/>
<polyline points="111.2,1179.15 112.7,1179.03 114.19,1178.89 115.69,1178.73 117.18,1178.54 118.68,1178.32 120.17,1178.07 121.67,1177.78 123.16,1177.45 124.66,1177.07 126.15,1176.64 127.65,1176.16 129.14,1175.61 130.64,1174.99 132.13,1174.3 133.63,1173.53 135.12,1172.66 136.62,1171.7 138.11,1170.64 139.61,1169.47 141.1,1168.17 142.6,1166.76 144.09,1165.21 145.59,1163.52 147.08,1161.69 148.58,1159.71 150.07,1157.58 151.57,1155.29 153.06,1152.84 154.56,1150.23 156.05,1147.45 157.55,1144.52 159.05,1141.43 160.54,1138.18 162.04,1134.78 163.53,1131.25 165.03,1127.58 166.52,1123.79 168.02,1119.9 169.51,1115.92 171.01,1111.86 172.5,1107.75 174,1103.61 175.49,1099.45 176.99,1095.31 178.48,1091.2 179.98,1087.15 181.47,1083.18 182.97,1079.33 184.46,1075.62 185.96,1072.08 187.45,1068.73 188.95,1065.6 190.44,1062.7 191.94,1060.07 193.43,1057.73 194.93,1055.69 196.42,1053.97 197.92,1052.58 199.41,1051.54 200.91,1050.85 202.4,1050.53 203.9,1050.56 205.4,1050.95 206.89,1051.69 208.39,1052.77 209.88,1054.19 211.38,1055.93 212.87,1057.98 214.37,1060.32 215.86,1062.93 217.36,1065.81 218.85,1068.91 220.35,1072.22 221.84,1075.72 223.34,1079.38 224.83,1083.18 226.33,1087.09 227.82,1091.08 229.32,1095.13 230.81,1099.22 232.31,1103.32 233.8,1107.41 235.3,1111.46 236.79,1115.47 238.29,1119.4 239.78,1123.25 241.28,1127 242.77,1130.64 244.27,1134.15 245.76,1137.52 247.26,1140.76 248.75,1143.84 250.25,1146.77 251.75,1149.54 253.24,1152.16 254.74,1154.62 256.23,1156.92 257.73,1159.07 259.22,1161.07 260.72,1162.92 262.21,1164.63 263.71,1166.21 265.2,1167.65 266.7,1168.97 268.19,1170.18 269.69,1171.27 271.18,1172.26 272.68,1173.15 274.17,1173.95 275.67,1174.67 277.16,1175.32 278.66,1175.89 280.15,1176.4 281.65,1176.85 283.14,1177.25 284.64,1177.6 286.13,1177.91 287.63,1178.18 289.12,1178.41 290.62,1178.62 292.11,1178.79 293.61,1178.94 295.1,1179.08 296.6,1179.19" fill="none" stroke="#000" stroke-width="1.7" stroke-linejoin="round" stroke-linecap="round"/>
<polyline points="214.9,1179.66 216.39,1179.62 217.89,1179.58 219.38,1179.52 220.87,1179.45 222.37,1179.37 223.86,1179.27 225.35,1179.15 226.85,1179.01 228.34,1178.83 229.83,1178.63 231.32,1178.39 232.82,1178.11 234.31,1177.78 235.8,1177.39 237.3,1176.95 238.79,1176.44 240.28,1175.87 241.78,1175.21 243.27,1174.47 244.76,1173.64 246.26,1172.71 247.75,1171.68 249.24,1170.54 250.74,1169.29 252.23,1167.93 253.72,1166.46 255.21,1164.87 256.71,1163.17 258.2,1161.37 259.69,1159.46 261.19,1157.46 262.68,1155.38 264.17,1153.23 265.67,1151.03 267.16,1148.79 268.65,1146.53 270.15,1144.27 271.64,1142.03 273.13,1139.84 274.63,1137.73 276.12,1135.7 277.61,1133.79 279.1,1132.03 280.6,1130.43 282.09,1129.01 283.58,1127.79 285.08,1126.8 286.57,1126.03 288.06,1125.51 289.56,1125.24 291.05,1125.22 292.54,1125.44 294.04,1125.88 295.53,1126.54 297.02,1127.42 298.52,1128.5 300.01,1129.76 301.5,1131.2 303,1132.8 304.49,1134.54 305.98,1136.4 307.47,1138.35 308.97,1140.38 310.46,1142.48 311.95,1144.6 313.45,1146.75 314.94,1148.9 316.43,1151.03 317.93,1153.12 319.42,1155.17 320.91,1157.15 322.41,1159.07 323.9,1160.9 325.39,1162.64 326.89,1164.28 328.38,1165.83 329.87,1167.28 331.36,1168.62 332.86,1169.86 334.35,1171 335.84,1172.05 337.34,1172.99 338.83,1173.85 340.32,1174.62 341.82,1175.31 343.31,1175.93 344.8,1176.47 346.3,1176.95 347.79,1177.37 349.28,1177.74 350.78,1178.06 352.27,1178.33 353.76,1178.57 355.25,1178.78 356.75,1178.95 358.24,1179.1 359.73,1179.22 361.23,1179.32 362.72,1179.41 364.21,1179.48 365.71,1179.54 367.2,1179.59" fill="none" stroke="#000" stroke-width="1.7" stroke-linejoin="round" stroke-linecap="round"/>
<polyline points="318.9,1179.73 320.39,1179.72 321.88,1179.71 323.37,1179.69 324.86,1179.67 326.35,1179.65 327.84,1179.62 329.33,1179.59 330.82,1179.56 332.3,1179.52 333.79,1179.47 335.28,1179.42 336.77,1179.36 338.26,1179.29 339.75,1179.22 341.24,1179.13 342.73,1179.04 344.22,1178.93 345.71,1178.81 347.2,1178.68 348.69,1178.54 350.18,1178.38 351.67,1178.2 353.16,1178.01 354.65,1177.8 356.14,1177.57 357.62,1177.33 359.11,1177.06 360.6,1176.77 362.09,1176.46 363.58,1176.13 365.07,1175.78 366.56,1175.4 368.05,1175 369.54,1174.58 371.03,1174.15 372.52,1173.69 374.01,1173.21 375.5,1172.71 376.99,1172.2 378.48,1171.67 379.97,1171.12 381.46,1170.57 382.94,1170.01 384.43,1169.44 385.92,1168.87 387.41,1168.3 388.9,1167.74 390.39,1167.18 391.88,1166.63 393.37,1166.09 394.86,1165.57 396.35,1165.07 397.84,1164.6 399.33,1164.15 400.82,1163.73 402.31,1163.35 403.8,1163 405.29,1162.7 406.78,1162.43 408.26,1162.21 409.75,1162.04 411.24,1161.91 412.73,1161.83 414.22,1161.8 415.71,1161.82 417.2,1161.88 418.69,1161.98 420.18,1162.13 421.67,1162.32 423.16,1162.55 424.65,1162.82 426.14,1163.13 427.63,1163.47 429.12,1163.84 430.61,1164.24 432.1,1164.67 433.58,1165.13 435.07,1165.6 436.56,1166.1 438.05,1166.61 439.54,1167.13 441.03,1167.66 442.52,1168.2 444.01,1168.74 445.5,1169.28" fill="none" stroke="#000" stroke-width="1.7" stroke-linejoin="round" stroke-linecap="round"/>
</g>
<line x1="158.3" x2="158.3" y1="1188.45" y2="1194.05" stroke="#3a3a3a" stroke-width="2.2"/>
<text transform="translate(157.4,1224.05) scale(0.975,1)" font-size="31" text-anchor="middle" fill="#0d0d0d" stroke="#0d0d0d" stroke-width="0.6">5.0</text>
<line x1="240.3" x2="240.3" y1="1188.45" y2="1194.05" stroke="#3a3a3a" stroke-width="2.2"/>
<text transform="translate(239.4,1224.05) scale(0.975,1)" font-size="31" text-anchor="middle" fill="#0d0d0d" stroke="#0d0d0d" stroke-width="0.6">7.5</text>
<line x1="323.8" x2="323.8" y1="1188.45" y2="1194.05" stroke="#3a3a3a" stroke-width="2.2"/>
<text transform="translate(322.9,1224.05) scale(0.975,1)" font-size="31" text-anchor="middle" fill="#0d0d0d" stroke="#0d0d0d" stroke-width="0.6">10.0</text>
<line x1="407.8" x2="407.8" y1="1188.45" y2="1194.05" stroke="#3a3a3a" stroke-width="2.2"/>
<text transform="translate(406.9,1224.05) scale(0.975,1)" font-size="31" text-anchor="middle" fill="#0d0d0d" stroke="#0d0d0d" stroke-width="0.6">12.5</text>
<g>
<rect x="549.35" y="3.1" width="356.75" height="37.9" fill="#cfcfcf"/>
<rect x="551.25" y="5" width="352.95" height="34.1" fill="none" stroke="#e3e3e3" stroke-width="1.2"/>
<line x1="552.65" x2="902.8" y1="189.9" y2="189.9" stroke="#ebebeb" stroke-width="1.8"/>
<line x1="552.65" x2="902.8" y1="123.3" y2="123.3" stroke="#ebebeb" stroke-width="1.8"/>
<line x1="552.65" x2="902.8" y1="56.7" y2="56.7" stroke="#ebebeb" stroke-width="1.8"/>
<line x1="624.5" x2="624.5" y1="44.3" y2="227.7" stroke="#ebebeb" stroke-width="1.8"/>
<line x1="742.4" x2="742.4" y1="44.3" y2="227.7" stroke="#ebebeb" stroke-width="1.8"/>
<line x1="861" x2="861" y1="44.3" y2="227.7" stroke="#ebebeb" stroke-width="1.8"/>
<line x1="552.65" x2="902.8" y1="223.2" y2="223.2" stroke="#e6e6e6" stroke-width="2"/>
<line x1="552.65" x2="902.8" y1="156.6" y2="156.6" stroke="#e6e6e6" stroke-width="2"/>
<line x1="552.65" x2="902.8" y1="90" y2="90" stroke="#e6e6e6" stroke-width="2"/>
<line x1="565.1" x2="565.1" y1="44.3" y2="227.7" stroke="#e6e6e6" stroke-width="2"/>
<line x1="682.7" x2="682.7" y1="44.3" y2="227.7" stroke="#e6e6e6" stroke-width="2"/>
<line x1="801.2" x2="801.2" y1="44.3" y2="227.7" stroke="#e6e6e6" stroke-width="2"/>
<path d="M624,222.7L624,208.7L653.5,208.7L653.5,182.9L683,182.9L683,195.8L712.5,195.8L712.5,208.7L742,208.7L742,222.7Z" fill="#464646"/>
<rect x="549.35" y="3.1" width="356.75" height="227.9" fill="none" stroke="#3a3a3a" stroke-width="2.3"/>
<line x1="549.35" x2="906.1" y1="41" y2="41" stroke="#3a3a3a" stroke-width="2.3"/>
<text x="726.73" y="31.1" font-size="20" text-anchor="middle" fill="#222" stroke="#222" stroke-width="0.45">2013-09-17</text>
<line x1="541.95" x2="548.35" y1="223.2" y2="223.2" stroke="#3a3a3a" stroke-width="2.2"/>
<text transform="translate(535.05,235.9) scale(0.975,1)" font-size="31" text-anchor="end" fill="#0d0d0d" stroke="#0d0d0d" stroke-width="0.6">0</text>
<line x1="541.95" x2="548.35" y1="156.6" y2="156.6" stroke="#3a3a3a" stroke-width="2.2"/>
<text transform="translate(535.05,169.3) scale(0.975,1)" font-size="31" text-anchor="end" fill="#0d0d0d" stroke="#0d0d0d" stroke-width="0.6">5</text>
<line x1="541.95" x2="548.35" y1="90" y2="90" stroke="#3a3a3a" stroke-width="2.2"/>
<text transform="translate(535.05,102.7) scale(0.975,1)" font-size="31" text-anchor="end" fill="#0d0d0d" stroke="#0d0d0d" stroke-width="0.6">10</text>
<polyline points="605.7,223 607.19,222.95 608.69,222.89 610.18,222.82 611.68,222.73 613.17,222.63 614.66,222.5 616.16,222.36 617.65,222.19 619.15,221.99 620.64,221.76 622.13,221.49 623.63,221.18 625.12,220.82 626.62,220.41 628.11,219.94 629.6,219.42 631.1,218.82 632.59,218.15 634.09,217.41 635.58,216.59 637.08,215.68 638.57,214.69 640.06,213.6 641.56,212.42 643.05,211.15 644.55,209.79 646.04,208.33 647.53,206.79 649.03,205.17 650.52,203.47 652.02,201.7 653.51,199.88 655,198.01 656.5,196.1 657.99,194.18 659.49,192.25 660.98,190.34 662.47,188.46 663.97,186.63 665.46,184.87 666.96,183.19 668.45,181.62 669.94,180.17 671.44,178.86 672.93,177.71 674.43,176.73 675.92,175.94 677.41,175.33 678.91,174.92 680.4,174.72 681.9,174.73 683.39,174.92 684.89,175.3 686.38,175.86 687.87,176.59 689.37,177.49 690.86,178.55 692.36,179.75 693.85,181.08 695.34,182.53 696.84,184.08 698.33,185.72 699.83,187.43 701.32,189.19 702.81,190.99 704.31,192.81 705.8,194.64 707.3,196.47 708.79,198.27 710.28,200.04 711.78,201.77 713.27,203.45 714.77,205.07 716.26,206.62 717.75,208.09 719.25,209.49 720.74,210.8 722.24,212.04 723.73,213.19 725.22,214.25 726.72,215.23 728.21,216.14 729.71,216.96 731.2,217.71 732.7,218.39 734.19,219 735.68,219.55 737.18,220.04 738.67,220.47 740.17,220.85 741.66,221.19 743.15,221.49 744.65,221.74 746.14,221.97 747.64,222.16 749.13,222.33 750.62,222.47 752.12,222.59 753.61,222.69 755.11,222.78 756.6,222.86" fill="none" stroke="#000" stroke-width="1.7" stroke-linejoin="round" stroke-linecap="round"/>
<text x="685" y="161" font-size="20.5" font-weight="bold" text-anchor="middle" fill="#000" stroke="#000" stroke-width="0.6">3+</text>
</g>
<g>
<rect x="549.35" y="243" width="356.75" height="39.2" fill="#cfcfcf"/>
<rect x="551.25" y="244.9" width="352.95" height="35.4" fill="none" stroke="#e3e3e3" stroke-width="1.2"/>
<line x1="552.65" x2="902.8" y1="429.85" y2="429.85" stroke="#ebebeb" stroke-width="1.8"/>
<line x1="552.65" x2="902.8" y1="363.95" y2="363.95" stroke="#ebebeb" stroke-width="1.8"/>
<line x1="552.65" x2="902.8" y1="298.05" y2="298.05" stroke="#ebebeb" stroke-width="1.8"/>
<line x1="624.5" x2="624.5" y1="285.5" y2="468.95" stroke="#ebebeb" stroke-width="1.8"/>
<line x1="742.4" x2="742.4" y1="285.5" y2="468.95" stroke="#ebebeb" stroke-width="1.8"/>
<line x1="861" x2="861" y1="285.5" y2="468.95" stroke="#ebebeb" stroke-width="1.8"/>
<line x1="552.65" x2="902.8" y1="462.8" y2="462.8" stroke="#e6e6e6" stroke-width="2"/>
<line x1="552.65" x2="902.8" y1="396.9" y2="396.9" stroke="#e6e6e6" stroke-width="2"/>
<line x1="552.65" x2="902.8" y1="331" y2="331" stroke="#e6e6e6" stroke-width="2"/>
<line x1="565.1" x2="565.1" y1="285.5" y2="468.95" stroke="#e6e6e6" stroke-width="2"/>
<line x1="682.7" x2="682.7" y1="285.5" y2="468.95" stroke="#e6e6e6" stroke-width="2"/>
<line x1="801.2" x2="801.2" y1="285.5" y2="468.95" stroke="#e6e6e6" stroke-width="2"/>
<path d="M594.5,462.3L594.5,449.62L624,449.62L624,449.62L653.5,449.62L653.5,423.26L683,423.26L683,462.3ZM712.5,462.3L712.5,449.62L742,449.62L742,436.44L771.5,436.44L771.5,462.3ZM801,462.3L801,449.62L830.5,449.62L830.5,462.3Z" fill="#464646"/>
<rect x="549.35" y="243" width="356.75" height="229.25" fill="none" stroke="#3a3a3a" stroke-width="2.3"/>
<line x1="549.35" x2="906.1" y1="282.2" y2="282.2" stroke="#3a3a3a" stroke-width="2.3"/>
<text x="726.73" y="272.3" font-size="20" text-anchor="middle" fill="#222" stroke="#222" stroke-width="0.45">2014-05-14</text>
<line x1="541.95" x2="548.35" y1="462.8" y2="462.8" stroke="#3a3a3a" stroke-width="2.2"/>
<text transform="translate(535.05,475.5) scale(0.975,1)" font-size="31" text-anchor="end" fill="#0d0d0d" stroke="#0d0d0d" stroke-width="0.6">0</text>
<line x1="541.95" x2="548.35" y1="396.9" y2="396.9" stroke="#3a3a3a" stroke-width="2.2"/>
<text transform="translate(535.05,409.6) scale(0.975,1)" font-size="31" text-anchor="end" fill="#0d0d0d" stroke="#0d0d0d" stroke-width="0.6">5</text>
<line x1="541.95" x2="548.35" y1="331" y2="331" stroke="#3a3a3a" stroke-width="2.2"/>
<text transform="translate(535.05,343.7) scale(0.975,1)" font-size="31" text-anchor="end" fill="#0d0d0d" stroke="#0d0d0d" stroke-width="0.6">10</text>
<polyline points="562,462.61 563.49,462.57 564.98,462.53 566.48,462.49 567.97,462.44 569.46,462.38 570.95,462.31 572.44,462.23 573.93,462.15 575.43,462.05 576.92,461.94 578.41,461.81 579.9,461.67 581.39,461.51 582.89,461.34 584.38,461.14 585.87,460.92 587.36,460.68 588.85,460.42 590.34,460.12 591.84,459.8 593.33,459.44 594.82,459.06 596.31,458.63 597.8,458.18 599.29,457.68 600.79,457.14 602.28,456.57 603.77,455.95 605.26,455.29 606.75,454.58 608.25,453.83 609.74,453.03 611.23,452.19 612.72,451.3 614.21,450.37 615.7,449.4 617.2,448.38 618.69,447.33 620.18,446.23 621.67,445.11 623.16,443.95 624.66,442.76 626.15,441.55 627.64,440.33 629.13,439.08 630.62,437.83 632.11,436.58 633.61,435.33 635.1,434.09 636.59,432.87 638.08,431.67 639.57,430.5 641.06,429.36 642.56,428.27 644.05,427.23 645.54,426.25 647.03,425.33 648.52,424.47 650.02,423.7 651.51,423 653,422.39 654.49,421.87 655.98,421.44 657.47,421.1 658.97,420.87 660.46,420.74 661.95,420.7 663.44,420.76 664.93,420.91 666.43,421.16 667.92,421.49 669.41,421.9 670.9,422.4 672.39,422.99 673.88,423.64 675.38,424.37 676.87,425.17 678.36,426.04 679.85,426.96 681.34,427.93 682.84,428.95 684.33,430.01 685.82,431.11 687.31,432.24 688.8,433.39 690.29,434.56 691.79,435.74 693.28,436.93 694.77,438.12 696.26,439.3 697.75,440.48 699.24,441.65 700.74,442.8 702.23,443.92 703.72,445.02 705.21,446.1 706.7,447.14 708.2,448.15 709.69,449.12 711.18,450.06 712.67,450.96 714.16,451.82 715.65,452.64 717.15,453.42 718.64,454.15 720.13,454.85 721.62,455.51 723.11,456.12 724.61,456.7 726.1,457.24 727.59,457.75 729.08,458.21 730.57,458.65 732.06,459.05 733.56,459.42 735.05,459.76 736.54,460.07 738.03,460.35 739.52,460.61 741.01,460.85 742.51,461.06 744,461.26 745.49,461.43 746.98,461.59 748.47,461.73 749.97,461.86 751.46,461.98 752.95,462.08 754.44,462.17 755.93,462.25 757.42,462.32 758.92,462.38 760.41,462.44 761.9,462.49" fill="none" stroke="#000" stroke-width="1.7" stroke-linejoin="round" stroke-linecap="round"/>
<polyline points="672.3,462.6 673.79,462.57 675.28,462.53 676.76,462.48 678.25,462.42 679.74,462.35 681.23,462.28 682.72,462.19 684.21,462.09 685.69,461.97 687.18,461.84 688.67,461.7 690.16,461.53 691.65,461.35 693.14,461.14 694.62,460.91 696.11,460.65 697.6,460.36 699.09,460.04 700.58,459.69 702.07,459.31 703.55,458.89 705.04,458.43 706.53,457.94 708.02,457.4 709.51,456.82 711,456.2 712.49,455.53 713.97,454.83 715.46,454.07 716.95,453.28 718.44,452.44 719.93,451.56 721.41,450.64 722.9,449.69 724.39,448.7 725.88,447.68 727.37,446.64 728.86,445.57 730.34,444.49 731.83,443.39 733.32,442.29 734.81,441.19 736.3,440.1 737.79,439.02 739.27,437.97 740.76,436.94 742.25,435.95 743.74,435 745.23,434.1 746.72,433.26 748.2,432.48 749.69,431.78 751.18,431.15 752.67,430.6 754.16,430.13 755.65,429.76 757.13,429.48 758.62,429.3 760.11,429.21 761.6,429.22 763.09,429.31 764.58,429.5 766.06,429.77 767.55,430.13 769.04,430.56 770.53,431.08 772.02,431.66 773.51,432.32 775,433.04 776.48,433.83 777.97,434.66 779.46,435.54 780.95,436.47 782.44,437.43 783.92,438.42 785.41,439.43 786.9,440.46 788.39,441.5 789.88,442.55 791.37,443.59 792.86,444.63 794.34,445.66 795.83,446.67 797.32,447.66 798.81,448.63 800.3,449.57 801.78,450.48 803.27,451.36 804.76,452.21 806.25,453.01 807.74,453.78 809.23,454.51 810.71,455.21 812.2,455.86 813.69,456.47 815.18,457.05 816.67,457.58 818.16,458.08 819.64,458.54 821.13,458.97 822.62,459.36 824.11,459.72 825.6,460.05 827.09,460.35 828.58,460.63 830.06,460.88 831.55,461.1 833.04,461.3 834.53,461.48 836.02,461.65 837.5,461.79 838.99,461.92 840.48,462.04 841.97,462.14 843.46,462.23 844.95,462.31 846.43,462.37 847.92,462.44 849.41,462.49 850.9,462.53" fill="none" stroke="#000" stroke-width="1.7" stroke-linejoin="round" stroke-linecap="round"/>
<text x="664.2" y="408.8" font-size="20.5" font-weight="bold" text-anchor="middle" fill="#000" stroke="#000" stroke-width="0.6">3+</text>
<text x="764.1" y="417.3" font-size="20.5" font-weight="bold" text-anchor="middle" fill="#000" stroke="#000" stroke-width="0.6">4+</text>
</g>
<g>
<rect x="549.35" y="484" width="356.75" height="39.95" fill="#cfcfcf"/>
<rect x="551.25" y="485.9" width="352.95" height="36.15" fill="none" stroke="#e3e3e3" stroke-width="1.2"/>
<line x1="552.65" x2="902.8" y1="670.47" y2="670.47" stroke="#ebebeb" stroke-width="1.8"/>
<line x1="552.65" x2="902.8" y1="604.83" y2="604.83" stroke="#ebebeb" stroke-width="1.8"/>
<line x1="552.65" x2="902.8" y1="539.17" y2="539.17" stroke="#ebebeb" stroke-width="1.8"/>
<line x1="624.5" x2="624.5" y1="527.25" y2="708.45" stroke="#ebebeb" stroke-width="1.8"/>
<line x1="742.4" x2="742.4" y1="527.25" y2="708.45" stroke="#ebebeb" stroke-width="1.8"/>
<line x1="861" x2="861" y1="527.25" y2="708.45" stroke="#ebebeb" stroke-width="1.8"/>
<line x1="552.65" x2="902.8" y1="703.3" y2="703.3" stroke="#e6e6e6" stroke-width="2"/>
<line x1="552.65" x2="902.8" y1="637.65" y2="637.65" stroke="#e6e6e6" stroke-width="2"/>
<line x1="552.65" x2="902.8" y1="572" y2="572" stroke="#e6e6e6" stroke-width="2"/>
<line x1="565.1" x2="565.1" y1="527.25" y2="708.45" stroke="#e6e6e6" stroke-width="2"/>
<line x1="682.7" x2="682.7" y1="527.25" y2="708.45" stroke="#e6e6e6" stroke-width="2"/>
<line x1="801.2" x2="801.2" y1="527.25" y2="708.45" stroke="#e6e6e6" stroke-width="2"/>
<path d="M565,702.8L565,637.65L594.5,637.65L594.5,677.04L624,677.04L624,650.78L653.5,650.78L653.5,637.65L683,637.65L683,690.17L712.5,690.17L712.5,663.91L742,663.91L742,702.8Z" fill="#464646"/>
<rect x="549.35" y="484" width="356.75" height="227.75" fill="none" stroke="#3a3a3a" stroke-width="2.3"/>
<line x1="549.35" x2="906.1" y1="523.95" y2="523.95" stroke="#3a3a3a" stroke-width="2.3"/>
<text x="726.73" y="514.05" font-size="20" text-anchor="middle" fill="#222" stroke="#222" stroke-width="0.45">2014-07-25</text>
<line x1="541.95" x2="548.35" y1="703.3" y2="703.3" stroke="#3a3a3a" stroke-width="2.2"/>
<text transform="translate(535.05,716) scale(0.975,1)" font-size="31" text-anchor="end" fill="#0d0d0d" stroke="#0d0d0d" stroke-width="0.6">0</text>
<line x1="541.95" x2="548.35" y1="637.65" y2="637.65" stroke="#3a3a3a" stroke-width="2.2"/>
<text transform="translate(535.05,650.35) scale(0.975,1)" font-size="31" text-anchor="end" fill="#0d0d0d" stroke="#0d0d0d" stroke-width="0.6">5</text>
<line x1="541.95" x2="548.35" y1="572" y2="572" stroke="#3a3a3a" stroke-width="2.2"/>
<text transform="translate(535.05,584.7) scale(0.975,1)" font-size="31" text-anchor="end" fill="#0d0d0d" stroke="#0d0d0d" stroke-width="0.6">10</text>
<polyline points="536.5,703.11 537.98,703.03 539.46,702.91 540.94,702.74 542.42,702.51 543.9,702.19 545.38,701.78 546.86,701.23 548.35,700.52 549.83,699.62 551.31,698.48 552.79,697.06 554.27,695.33 555.75,693.24 557.23,690.76 558.71,687.87 560.19,684.53 561.67,680.76 563.15,676.57 564.63,671.99 566.11,667.07 567.59,661.9 569.07,656.57 570.55,651.2 572.04,645.93 573.52,640.91 575,636.29 576.48,632.2 577.96,628.8 579.44,626.2 580.92,624.49 582.4,623.74 583.88,623.94 585.36,625.02 586.84,626.95 588.32,629.66 589.8,633.06 591.28,637.05 592.76,641.51 594.25,646.31 595.73,651.32 597.21,656.42 598.69,661.49 600.17,666.43 601.65,671.14 603.13,675.56 604.61,679.64 606.09,683.35 607.57,686.66 609.05,689.58 610.53,692.11 612.01,694.28 613.49,696.1 614.97,697.62 616.45,698.87 617.94,699.89 619.42,700.7 620.9,701.34 622.38,701.84 623.86,702.22 625.34,702.51 626.82,702.73 628.3,702.9" fill="none" stroke="#000" stroke-width="1.7" stroke-linejoin="round" stroke-linecap="round"/>
<polyline points="568.6,702.95 570.09,702.89 571.58,702.82 573.08,702.74 574.57,702.65 576.06,702.55 577.55,702.44 579.04,702.31 580.54,702.16 582.03,701.99 583.52,701.8 585.01,701.59 586.5,701.36 588,701.1 589.49,700.8 590.98,700.48 592.47,700.12 593.96,699.72 595.46,699.28 596.95,698.8 598.44,698.28 599.93,697.7 601.42,697.07 602.92,696.38 604.41,695.64 605.9,694.84 607.39,693.98 608.88,693.04 610.38,692.05 611.87,690.98 613.36,689.84 614.85,688.63 616.34,687.35 617.84,685.99 619.33,684.57 620.82,683.07 622.31,681.5 623.81,679.86 625.3,678.15 626.79,676.39 628.28,674.56 629.77,672.68 631.27,670.75 632.76,668.77 634.25,666.76 635.74,664.72 637.23,662.66 638.73,660.58 640.22,658.5 641.71,656.42 643.2,654.36 644.69,652.33 646.19,650.32 647.68,648.37 649.17,646.47 650.66,644.64 652.15,642.89 653.65,641.22 655.14,639.66 656.63,638.2 658.12,636.86 659.61,635.65 661.11,634.57 662.6,633.63 664.09,632.83 665.58,632.19 667.07,631.71 668.57,631.38 670.06,631.22 671.55,631.22 673.04,631.37 674.53,631.66 676.03,632.1 677.52,632.68 679.01,633.4 680.5,634.25 681.99,635.23 683.49,636.34 684.98,637.56 686.47,638.89 687.96,640.32 689.45,641.85 690.95,643.46 692.44,645.15 693.93,646.9 695.42,648.72 696.91,650.58 698.41,652.49 699.9,654.42 701.39,656.38 702.88,658.35 704.37,660.33 705.87,662.3 707.36,664.27 708.85,666.21 710.34,668.13 711.83,670.02 713.33,671.87 714.82,673.68 716.31,675.44 717.8,677.15 719.29,678.81 720.79,680.41 722.28,681.94 723.77,683.42 725.26,684.83 726.76,686.18 728.25,687.46 729.74,688.67 731.23,689.82 732.72,690.9 734.22,691.92 735.71,692.88 737.2,693.78 738.69,694.61 740.18,695.39 741.68,696.12 743.17,696.79 744.66,697.41 746.15,697.98 747.64,698.51 749.14,698.99 750.63,699.43 752.12,699.84 753.61,700.21 755.1,700.54 756.6,700.84 758.09,701.12 759.58,701.37 761.07,701.59 762.56,701.79 764.06,701.97 765.55,702.13 767.04,702.27 768.53,702.4 770.02,702.52 771.52,702.62 773.01,702.7 774.5,702.78" fill="none" stroke="#000" stroke-width="1.7" stroke-linejoin="round" stroke-linecap="round"/>
<text x="588.1" y="614.9" font-size="20.5" font-weight="bold" text-anchor="middle" fill="#000" stroke="#000" stroke-width="0.6">2+</text>
<text x="674.5" y="618.9" font-size="20.5" font-weight="bold" text-anchor="middle" fill="#000" stroke="#000" stroke-width="0.6">3+</text>
</g>
<g>
<rect x="549.35" y="723.35" width="356.75" height="40.1" fill="#cfcfcf"/>
<rect x="551.25" y="725.25" width="352.95" height="36.3" fill="none" stroke="#e3e3e3" stroke-width="1.2"/>
<line x1="552.65" x2="902.8" y1="910.28" y2="910.28" stroke="#ebebeb" stroke-width="1.8"/>
<line x1="552.65" x2="902.8" y1="844.42" y2="844.42" stroke="#ebebeb" stroke-width="1.8"/>
<line x1="552.65" x2="902.8" y1="778.58" y2="778.58" stroke="#ebebeb" stroke-width="1.8"/>
<line x1="624.5" x2="624.5" y1="766.75" y2="949.4" stroke="#ebebeb" stroke-width="1.8"/>
<line x1="742.4" x2="742.4" y1="766.75" y2="949.4" stroke="#ebebeb" stroke-width="1.8"/>
<line x1="861" x2="861" y1="766.75" y2="949.4" stroke="#ebebeb" stroke-width="1.8"/>
<line x1="552.65" x2="902.8" y1="943.2" y2="943.2" stroke="#e6e6e6" stroke-width="2"/>
<line x1="552.65" x2="902.8" y1="877.35" y2="877.35" stroke="#e6e6e6" stroke-width="2"/>
<line x1="552.65" x2="902.8" y1="811.5" y2="811.5" stroke="#e6e6e6" stroke-width="2"/>
<line x1="565.1" x2="565.1" y1="766.75" y2="949.4" stroke="#e6e6e6" stroke-width="2"/>
<line x1="682.7" x2="682.7" y1="766.75" y2="949.4" stroke="#e6e6e6" stroke-width="2"/>
<line x1="801.2" x2="801.2" y1="766.75" y2="949.4" stroke="#e6e6e6" stroke-width="2"/>
<path d="M712.5,942.7L712.5,916.86L742,916.86L742,942.7ZM771.5,942.7L771.5,903.69L801,903.69L801,890.52L830.5,890.52L830.5,771.99L860,771.99L860,864.18L889.5,864.18L889.5,942.7Z" fill="#464646"/>
<rect x="549.35" y="723.35" width="356.75" height="229.35" fill="none" stroke="#3a3a3a" stroke-width="2.3"/>
<line x1="549.35" x2="906.1" y1="763.45" y2="763.45" stroke="#3a3a3a" stroke-width="2.3"/>
<text x="726.73" y="753.55" font-size="20" text-anchor="middle" fill="#222" stroke="#222" stroke-width="0.45">2015-04-01</text>
<line x1="541.95" x2="548.35" y1="943.2" y2="943.2" stroke="#3a3a3a" stroke-width="2.2"/>
<text transform="translate(535.05,955.9) scale(0.975,1)" font-size="31" text-anchor="end" fill="#0d0d0d" stroke="#0d0d0d" stroke-width="0.6">0</text>
<line x1="541.95" x2="548.35" y1="877.35" y2="877.35" stroke="#3a3a3a" stroke-width="2.2"/>
<text transform="translate(535.05,890.05) scale(0.975,1)" font-size="31" text-anchor="end" fill="#0d0d0d" stroke="#0d0d0d" stroke-width="0.6">5</text>
<line x1="541.95" x2="548.35" y1="811.5" y2="811.5" stroke="#3a3a3a" stroke-width="2.2"/>
<text transform="translate(535.05,824.2) scale(0.975,1)" font-size="31" text-anchor="end" fill="#0d0d0d" stroke="#0d0d0d" stroke-width="0.6">10</text>
<polyline points="688.1,942.99 689.59,942.88 691.08,942.73 692.58,942.53 694.07,942.24 695.56,941.86 697.05,941.35 698.55,940.69 700.04,939.85 701.53,938.8 703.02,937.52 704.52,935.98 706.01,934.16 707.5,932.07 708.99,929.71 710.49,927.12 711.98,924.33 713.47,921.41 714.96,918.44 716.46,915.52 717.95,912.74 719.44,910.21 720.93,908.05 722.43,906.33 723.92,905.15 725.41,904.56 726.9,904.57 728.4,905.15 729.89,906.25 731.38,907.84 732.87,909.85 734.37,912.19 735.86,914.78 737.35,917.52 738.84,920.33 740.34,923.11 741.83,925.81 743.32,928.35 744.81,930.68 746.31,932.78 747.8,934.63 749.29,936.22 750.78,937.56 752.28,938.66 753.77,939.53 755.26,940.2 756.75,940.69 758.25,941.03 759.74,941.22 761.23,941.29 762.72,941.25 764.22,941.11 765.71,940.89 767.2,940.57 768.69,940.16 770.19,939.67 771.68,939.08 773.17,938.39 774.66,937.59 776.16,936.68 777.65,935.64 779.14,934.45 780.63,933.12 782.13,931.62 783.62,929.94 785.11,928.07 786.6,926 788.1,923.71 789.59,921.19 791.08,918.43 792.57,915.42 794.07,912.15 795.56,908.61 797.05,904.81 798.54,900.73 800.03,896.39 801.53,891.78 803.02,886.91 804.51,881.79 806,876.43 807.5,870.86 808.99,865.09 810.48,859.15 811.97,853.08 813.47,846.9 814.96,840.65 816.45,834.37 817.94,828.1 819.44,821.89 820.93,815.79 822.42,809.84 823.91,804.09 825.41,798.6 826.9,793.41 828.39,788.57 829.88,784.12 831.38,780.11 832.87,776.57 834.36,773.54 835.85,771.05 837.35,769.13 838.84,767.79 840.33,767.06 841.82,766.92 843.32,767.32 844.81,768.22 846.3,769.62 847.79,771.5 849.29,773.85 850.78,776.65 852.27,779.88 853.76,783.5 855.26,787.49 856.75,791.82 858.24,796.46 859.73,801.36 861.23,806.49 862.72,811.81 864.21,817.29 865.7,822.89 867.2,828.57 868.69,834.3 870.18,840.04 871.67,845.76 873.17,851.42 874.66,857.01 876.15,862.49 877.64,867.83 879.14,873.03 880.63,878.06 882.12,882.9 883.61,887.54 885.11,891.97 886.6,896.18 888.09,900.17 889.58,903.94 891.08,907.48 892.57,910.79 894.06,913.89 895.55,916.76 897.05,919.42 898.54,921.87 900.03,924.13 901.52,926.19 903.02,928.08 904.51,929.8 906,931.35" fill="none" stroke="#000" stroke-width="1.7" stroke-linejoin="round" stroke-linecap="round"/>
<text x="731" y="896" font-size="20.5" font-weight="bold" text-anchor="middle" fill="#000" stroke="#000" stroke-width="0.6">4+</text>
<text x="885" y="806.8" font-size="20.5" font-weight="bold" text-anchor="middle" fill="#000" stroke="#000" stroke-width="0.6">5+</text>
</g>
<g>
<rect x="549.35" y="964.7" width="356.75" height="39.5" fill="#cfcfcf"/>
<rect x="551.25" y="966.6" width="352.95" height="35.7" fill="none" stroke="#e3e3e3" stroke-width="1.2"/>
<line x1="552.65" x2="902.8" y1="1151.12" y2="1151.12" stroke="#ebebeb" stroke-width="1.8"/>
<line x1="552.65" x2="902.8" y1="1085.38" y2="1085.38" stroke="#ebebeb" stroke-width="1.8"/>
<line x1="552.65" x2="902.8" y1="1019.62" y2="1019.62" stroke="#ebebeb" stroke-width="1.8"/>
<line x1="624.5" x2="624.5" y1="1007.5" y2="1188.6" stroke="#ebebeb" stroke-width="1.8"/>
<line x1="742.4" x2="742.4" y1="1007.5" y2="1188.6" stroke="#ebebeb" stroke-width="1.8"/>
<line x1="861" x2="861" y1="1007.5" y2="1188.6" stroke="#ebebeb" stroke-width="1.8"/>
<line x1="552.65" x2="902.8" y1="1184" y2="1184" stroke="#e6e6e6" stroke-width="2"/>
<line x1="552.65" x2="902.8" y1="1118.25" y2="1118.25" stroke="#e6e6e6" stroke-width="2"/>
<line x1="552.65" x2="902.8" y1="1052.5" y2="1052.5" stroke="#e6e6e6" stroke-width="2"/>
<line x1="565.1" x2="565.1" y1="1007.5" y2="1188.6" stroke="#e6e6e6" stroke-width="2"/>
<line x1="682.7" x2="682.7" y1="1007.5" y2="1188.6" stroke="#e6e6e6" stroke-width="2"/>
<line x1="801.2" x2="801.2" y1="1007.5" y2="1188.6" stroke="#e6e6e6" stroke-width="2"/>
<path d="M565,1183.5L565,1170.85L594.5,1170.85L594.5,1170.85L624,1170.85L624,1183.5ZM653.5,1183.5L653.5,1157.7L683,1157.7L683,1118.25L712.5,1118.25L712.5,1157.7L742,1157.7L742,1037.51L771.5,1037.51L771.5,1131.4L801,1131.4L801,1131.4L830.5,1131.4L830.5,1170.85L860,1170.85L860,1144.55L889.5,1144.55L889.5,1183.5Z" fill="#464646"/>
<rect x="549.35" y="964.7" width="356.75" height="227.2" fill="none" stroke="#3a3a3a" stroke-width="2.3"/>
<line x1="549.35" x2="906.1" y1="1004.2" y2="1004.2" stroke="#3a3a3a" stroke-width="2.3"/>
<text x="726.73" y="994.3" font-size="20" text-anchor="middle" fill="#222" stroke="#222" stroke-width="0.45">2015-08-27</text>
<line x1="541.95" x2="548.35" y1="1184" y2="1184" stroke="#3a3a3a" stroke-width="2.2"/>
<text transform="translate(535.05,1196.7) scale(0.975,1)" font-size="31" text-anchor="end" fill="#0d0d0d" stroke="#0d0d0d" stroke-width="0.6">0</text>
<line x1="541.95" x2="548.35" y1="1118.25" y2="1118.25" stroke="#3a3a3a" stroke-width="2.2"/>
<text transform="translate(535.05,1130.95) scale(0.975,1)" font-size="31" text-anchor="end" fill="#0d0d0d" stroke="#0d0d0d" stroke-width="0.6">5</text>
<line x1="541.95" x2="548.35" y1="1052.5" y2="1052.5" stroke="#3a3a3a" stroke-width="2.2"/>
<text transform="translate(535.05,1065.2) scale(0.975,1)" font-size="31" text-anchor="end" fill="#0d0d0d" stroke="#0d0d0d" stroke-width="0.6">10</text>
<polyline points="542.5,1183.84 543.99,1183.79 545.48,1183.72 546.97,1183.64 548.46,1183.55 549.95,1183.43 551.44,1183.28 552.93,1183.1 554.42,1182.88 555.91,1182.63 557.4,1182.32 558.89,1181.97 560.38,1181.56 561.87,1181.09 563.36,1180.55 564.85,1179.95 566.34,1179.28 567.83,1178.54 569.32,1177.73 570.81,1176.86 572.3,1175.92 573.79,1174.93 575.28,1173.9 576.77,1172.84 578.26,1171.75 579.75,1170.66 581.24,1169.59 582.73,1168.55 584.22,1167.55 585.71,1166.63 587.2,1165.79 588.69,1165.06 590.18,1164.44 591.67,1163.96 593.16,1163.63 594.65,1163.44 596.15,1163.41 597.64,1163.52 599.13,1163.77 600.62,1164.15 602.11,1164.66 603.6,1165.29 605.09,1166.02 606.58,1166.84 608.07,1167.73 609.56,1168.68 611.05,1169.68 612.54,1170.7 614.03,1171.73 615.52,1172.76 617.01,1173.78 618.5,1174.76 619.99,1175.71 621.48,1176.61 622.97,1177.46 624.46,1178.25 625.95,1178.97 627.44,1179.64 628.93,1180.24 630.42,1180.77 631.91,1181.24 633.4,1181.66 634.89,1182.01 636.38,1182.31 637.87,1182.55 639.36,1182.74 640.85,1182.88 642.34,1182.97 643.83,1183 645.32,1182.98 646.81,1182.9 648.3,1182.75 649.79,1182.53 651.28,1182.22 652.77,1181.81 654.26,1181.29 655.75,1180.65 657.24,1179.86 658.73,1178.91 660.22,1177.78 661.71,1176.45 663.2,1174.91 664.69,1173.12 666.18,1171.09 667.67,1168.81 669.16,1166.26 670.65,1163.45 672.14,1160.38 673.63,1157.08 675.12,1153.56 676.61,1149.86 678.1,1146.02 679.59,1142.09 681.08,1138.13 682.57,1134.2 684.06,1130.37 685.55,1126.72 687.04,1123.31 688.53,1120.22 690.02,1117.51 691.51,1115.25 693,1113.49 694.49,1112.26 695.98,1111.61 697.47,1111.54 698.96,1112.01 700.45,1113 701.95,1114.48 703.44,1116.44 704.93,1118.82 706.42,1121.57 707.91,1124.64 709.4,1127.98 710.89,1131.51 712.38,1135.18 713.87,1138.93 715.36,1142.69 716.85,1146.42 718.34,1150.06 719.83,1153.57 721.32,1156.91 722.81,1160.07 724.3,1163.01 725.79,1165.73 727.28,1168.21 728.77,1170.45 730.26,1172.46 731.75,1174.24 733.24,1175.81 734.73,1177.18 736.22,1178.36 737.71,1179.37 739.2,1180.22 740.69,1180.94 742.18,1181.55 743.67,1182.04 745.16,1182.45 746.65,1182.78 748.14,1183.05 749.63,1183.27 751.12,1183.44 752.61,1183.57 754.1,1183.67" fill="none" stroke="#000" stroke-width="1.7" stroke-linejoin="round" stroke-linecap="round"/>
<polyline points="678.6,1183.59 680.09,1183.49 681.58,1183.38 683.08,1183.24 684.57,1183.07 686.06,1182.87 687.55,1182.64 689.05,1182.36 690.54,1182.03 692.03,1181.64 693.52,1181.19 695.01,1180.67 696.51,1180.06 698,1179.35 699.49,1178.54 700.98,1177.62 702.47,1176.56 703.97,1175.37 705.46,1174.01 706.95,1172.49 708.44,1170.78 709.94,1168.88 711.43,1166.77 712.92,1164.43 714.41,1161.86 715.9,1159.05 717.4,1155.98 718.89,1152.65 720.38,1149.05 721.87,1145.19 723.37,1141.06 724.86,1136.67 726.35,1132.02 727.84,1127.12 729.33,1122 730.83,1116.66 732.32,1111.13 733.81,1105.44 735.3,1099.62 736.79,1093.71 738.29,1087.74 739.78,1081.75 741.27,1075.8 742.76,1069.92 744.26,1064.17 745.75,1058.59 747.24,1053.24 748.73,1048.17 750.22,1043.42 751.72,1039.04 753.21,1035.08 754.7,1031.58 756.19,1028.58 757.69,1026.1 759.18,1024.18 760.67,1022.83 762.16,1022.07 763.65,1021.91 765.15,1022.25 766.64,1023.05 768.13,1024.29 769.62,1025.98 771.11,1028.09 772.61,1030.61 774.1,1033.52 775.59,1036.79 777.08,1040.4 778.58,1044.31 780.07,1048.51 781.56,1052.95 783.05,1057.61 784.54,1062.44 786.04,1067.43 787.53,1072.52 789.02,1077.7 790.51,1082.92 792.01,1088.16 793.5,1093.38 794.99,1098.56 796.48,1103.68 797.97,1108.7 799.47,1113.61 800.96,1118.39 802.45,1123.01 803.94,1127.47 805.43,1131.75 806.93,1135.85 808.42,1139.75 809.91,1143.45 811.4,1146.94 812.9,1150.23 814.39,1153.32 815.88,1156.2 817.37,1158.88 818.86,1161.37 820.36,1163.67 821.85,1165.79 823.34,1167.73 824.83,1169.51 826.33,1171.13 827.82,1172.6 829.31,1173.93 830.8,1175.13 832.29,1176.21 833.79,1177.18 835.28,1178.05 836.77,1178.82 838.26,1179.5 839.75,1180.1 841.25,1180.64 842.74,1181.1 844.23,1181.51 845.72,1181.87 847.22,1182.18 848.71,1182.45 850.2,1182.69" fill="none" stroke="#000" stroke-width="1.7" stroke-linejoin="round" stroke-linecap="round"/>
<polyline points="831.4,1183.61 832.89,1183.43 834.38,1183.18 835.87,1182.85 837.36,1182.4 838.85,1181.81 840.34,1181.05 841.83,1180.08 843.32,1178.87 844.81,1177.39 846.3,1175.62 847.79,1173.52 849.28,1171.11 850.77,1168.38 852.26,1165.36 853.75,1162.08 855.24,1158.63 856.73,1155.07 858.22,1151.52 859.71,1148.08 861.2,1144.88 862.69,1142.03 864.18,1139.67 865.67,1137.87 867.16,1136.74 868.65,1136.3 870.15,1136.57 871.64,1137.47 873.13,1138.99 874.62,1141.05 876.11,1143.57 877.6,1146.47 879.09,1149.64 880.58,1152.97 882.07,1156.36 883.56,1159.72 885.05,1162.96 886.54,1166.01 888.03,1168.84 889.52,1171.39 891.01,1173.66 892.5,1175.64 893.99,1177.33 895.48,1178.75 896.97,1179.92 898.46,1180.88 899.95,1181.64 901.44,1182.25 902.93,1182.71 904.42,1183.07 905.91,1183.33 907.4,1183.53" fill="none" stroke="#000" stroke-width="1.7" stroke-linejoin="round" stroke-linecap="round"/>
<text x="598.2" y="1150.5" font-size="20.5" font-weight="bold" text-anchor="middle" fill="#000" stroke="#000" stroke-width="0.6">2+</text>
<text x="701.5" y="1098" font-size="20.5" font-weight="bold" text-anchor="middle" fill="#000" stroke="#000" stroke-width="0.6">3+</text>
<text x="795.5" y="1048.3" font-size="20.5" font-weight="bold" text-anchor="middle" fill="#000" stroke="#000" stroke-width="0.6">4+</text>
<text x="875.5" y="1128.5" font-size="20.5" font-weight="bold" text-anchor="middle" fill="#000" stroke="#000" stroke-width="0.6">5+</text>
</g>
<line x1="565.1" x2="565.1" y1="1192.9" y2="1198.5" stroke="#3a3a3a" stroke-width="2.2"/>
<text transform="translate(563.5,1228.5) scale(0.975,1)" font-size="31" text-anchor="middle" fill="#0d0d0d" stroke="#0d0d0d" stroke-width="0.6">2</text>
<line x1="682.7" x2="682.7" y1="1192.9" y2="1198.5" stroke="#3a3a3a" stroke-width="2.2"/>
<text transform="translate(681.1,1228.5) scale(0.975,1)" font-size="31" text-anchor="middle" fill="#0d0d0d" stroke="#0d0d0d" stroke-width="0.6">4</text>
<line x1="801.2" x2="801.2" y1="1192.9" y2="1198.5" stroke="#3a3a3a" stroke-width="2.2"/>
<text transform="translate(799.6,1228.5) scale(0.975,1)" font-size="31" text-anchor="middle" fill="#0d0d0d" stroke="#0d0d0d" stroke-width="0.6">6</text>
<g>
<rect x="1043.65" y="3" width="352.35" height="38" fill="#cfcfcf"/>
<rect x="1045.55" y="4.9" width="348.55" height="34.2" fill="none" stroke="#e3e3e3" stroke-width="1.2"/>
<line x1="1046.95" x2="1392.7" y1="198.72" y2="198.72" stroke="#ebebeb" stroke-width="1.8"/>
<line x1="1046.95" x2="1392.7" y1="151.15" y2="151.15" stroke="#ebebeb" stroke-width="1.8"/>
<line x1="1046.95" x2="1392.7" y1="103.58" y2="103.58" stroke="#ebebeb" stroke-width="1.8"/>
<line x1="1046.95" x2="1392.7" y1="56.02" y2="56.02" stroke="#ebebeb" stroke-width="1.8"/>
<line x1="1105" x2="1105" y1="44.3" y2="227.05" stroke="#ebebeb" stroke-width="1.8"/>
<line x1="1173.1" x2="1173.1" y1="44.3" y2="227.05" stroke="#ebebeb" stroke-width="1.8"/>
<line x1="1239.7" x2="1239.7" y1="44.3" y2="227.05" stroke="#ebebeb" stroke-width="1.8"/>
<line x1="1306.8" x2="1306.8" y1="44.3" y2="227.05" stroke="#ebebeb" stroke-width="1.8"/>
<line x1="1373.8" x2="1373.8" y1="44.3" y2="227.05" stroke="#ebebeb" stroke-width="1.8"/>
<line x1="1046.95" x2="1392.7" y1="222.5" y2="222.5" stroke="#e6e6e6" stroke-width="2"/>
<line x1="1046.95" x2="1392.7" y1="174.93" y2="174.93" stroke="#e6e6e6" stroke-width="2"/>
<line x1="1046.95" x2="1392.7" y1="127.37" y2="127.37" stroke="#e6e6e6" stroke-width="2"/>
<line x1="1046.95" x2="1392.7" y1="79.8" y2="79.8" stroke="#e6e6e6" stroke-width="2"/>
<line x1="1072.3" x2="1072.3" y1="44.3" y2="227.05" stroke="#e6e6e6" stroke-width="2"/>
<line x1="1139.1" x2="1139.1" y1="44.3" y2="227.05" stroke="#e6e6e6" stroke-width="2"/>
<line x1="1206.1" x2="1206.1" y1="44.3" y2="227.05" stroke="#e6e6e6" stroke-width="2"/>
<line x1="1272.5" x2="1272.5" y1="44.3" y2="227.05" stroke="#e6e6e6" stroke-width="2"/>
<line x1="1341" x2="1341" y1="44.3" y2="227.05" stroke="#e6e6e6" stroke-width="2"/>
<path d="M1059.2,222L1059.2,184.45L1085.8,184.45L1085.8,165.42L1112.4,165.42L1112.4,222Z" fill="#464646"/>
<rect x="1043.65" y="3" width="352.35" height="227.35" fill="none" stroke="#3a3a3a" stroke-width="2.3"/>
<line x1="1043.65" x2="1396" y1="41" y2="41" stroke="#3a3a3a" stroke-width="2.3"/>
<text x="1218.83" y="31.1" font-size="20" text-anchor="middle" fill="#222" stroke="#222" stroke-width="0.45">2013-09-17</text>
<line x1="1036.25" x2="1042.65" y1="222.5" y2="222.5" stroke="#3a3a3a" stroke-width="2.2"/>
<text transform="translate(1029.85,235.3) scale(0.975,1)" font-size="31" text-anchor="end" fill="#0d0d0d" stroke="#0d0d0d" stroke-width="0.6">0.0</text>
<line x1="1036.25" x2="1042.65" y1="174.93" y2="174.93" stroke="#3a3a3a" stroke-width="2.2"/>
<text transform="translate(1029.85,187.73) scale(0.975,1)" font-size="31" text-anchor="end" fill="#0d0d0d" stroke="#0d0d0d" stroke-width="0.6">2.5</text>
<line x1="1036.25" x2="1042.65" y1="127.37" y2="127.37" stroke="#3a3a3a" stroke-width="2.2"/>
<text transform="translate(1029.85,140.17) scale(0.975,1)" font-size="31" text-anchor="end" fill="#0d0d0d" stroke="#0d0d0d" stroke-width="0.6">5.0</text>
<line x1="1036.25" x2="1042.65" y1="79.8" y2="79.8" stroke="#3a3a3a" stroke-width="2.2"/>
<text transform="translate(1029.85,92.6) scale(0.975,1)" font-size="31" text-anchor="end" fill="#0d0d0d" stroke="#0d0d0d" stroke-width="0.6">7.5</text>
<polyline points="1048.5,221.94 1050,221.74 1051.5,221.48 1053,221.15 1054.49,220.73 1055.99,220.2 1057.49,219.54 1058.99,218.72 1060.49,217.72 1061.99,216.52 1063.48,215.09 1064.98,213.41 1066.48,211.45 1067.98,209.2 1069.48,206.65 1070.98,203.79 1072.47,200.63 1073.97,197.18 1075.47,193.47 1076.97,189.54 1078.47,185.44 1079.97,181.23 1081.47,176.99 1082.96,172.8 1084.46,168.74 1085.96,164.92 1087.46,161.42 1088.96,158.34 1090.46,155.76 1091.95,153.74 1093.45,152.34 1094.95,151.61 1096.45,151.56 1097.95,152.14 1099.45,153.32 1100.94,155.08 1102.44,157.36 1103.94,160.12 1105.44,163.28 1106.94,166.78 1108.44,170.52 1109.93,174.44 1111.43,178.45 1112.93,182.48 1114.43,186.45 1115.93,190.32 1117.43,194.02 1118.93,197.52 1120.42,200.78 1121.92,203.77 1123.42,206.5 1124.92,208.95 1126.42,211.12 1127.92,213.03 1129.41,214.69 1130.91,216.11 1132.41,217.32 1133.91,218.34 1135.41,219.18 1136.91,219.88 1138.4,220.45 1139.9,220.91 1141.4,221.28 1142.9,221.57" fill="none" stroke="#000" stroke-width="1.7" stroke-linejoin="round" stroke-linecap="round"/>
<text x="1098" y="142.1" font-size="20.5" font-weight="bold" text-anchor="middle" fill="#000" stroke="#000" stroke-width="0.6">3+</text>
</g>
<g>
<rect x="1043.65" y="242" width="352.35" height="39.65" fill="#cfcfcf"/>
<rect x="1045.55" y="243.9" width="348.55" height="35.85" fill="none" stroke="#e3e3e3" stroke-width="1.2"/>
<line x1="1046.95" x2="1392.7" y1="437.42" y2="437.42" stroke="#ebebeb" stroke-width="1.8"/>
<line x1="1046.95" x2="1392.7" y1="389.85" y2="389.85" stroke="#ebebeb" stroke-width="1.8"/>
<line x1="1046.95" x2="1392.7" y1="342.28" y2="342.28" stroke="#ebebeb" stroke-width="1.8"/>
<line x1="1046.95" x2="1392.7" y1="294.72" y2="294.72" stroke="#ebebeb" stroke-width="1.8"/>
<line x1="1105" x2="1105" y1="284.95" y2="467.35" stroke="#ebebeb" stroke-width="1.8"/>
<line x1="1173.1" x2="1173.1" y1="284.95" y2="467.35" stroke="#ebebeb" stroke-width="1.8"/>
<line x1="1239.7" x2="1239.7" y1="284.95" y2="467.35" stroke="#ebebeb" stroke-width="1.8"/>
<line x1="1306.8" x2="1306.8" y1="284.95" y2="467.35" stroke="#ebebeb" stroke-width="1.8"/>
<line x1="1373.8" x2="1373.8" y1="284.95" y2="467.35" stroke="#ebebeb" stroke-width="1.8"/>
<line x1="1046.95" x2="1392.7" y1="461.2" y2="461.2" stroke="#e6e6e6" stroke-width="2"/>
<line x1="1046.95" x2="1392.7" y1="413.63" y2="413.63" stroke="#e6e6e6" stroke-width="2"/>
<line x1="1046.95" x2="1392.7" y1="366.07" y2="366.07" stroke="#e6e6e6" stroke-width="2"/>
<line x1="1046.95" x2="1392.7" y1="318.5" y2="318.5" stroke="#e6e6e6" stroke-width="2"/>
<line x1="1072.3" x2="1072.3" y1="284.95" y2="467.35" stroke="#e6e6e6" stroke-width="2"/>
<line x1="1139.1" x2="1139.1" y1="284.95" y2="467.35" stroke="#e6e6e6" stroke-width="2"/>
<line x1="1206.1" x2="1206.1" y1="284.95" y2="467.35" stroke="#e6e6e6" stroke-width="2"/>
<line x1="1272.5" x2="1272.5" y1="284.95" y2="467.35" stroke="#e6e6e6" stroke-width="2"/>
<line x1="1341" x2="1341" y1="284.95" y2="467.35" stroke="#e6e6e6" stroke-width="2"/>
<path d="M1085.8,460.7L1085.8,442.17L1112.4,442.17L1112.4,442.17L1139,442.17L1139,460.7ZM1165.6,460.7L1165.6,423.15L1192.2,423.15L1192.2,442.17L1218.8,442.17L1218.8,423.15L1245.4,423.15L1245.4,442.17L1272,442.17L1272,460.7Z" fill="#464646"/>
<rect x="1043.65" y="242" width="352.35" height="228.65" fill="none" stroke="#3a3a3a" stroke-width="2.3"/>
<line x1="1043.65" x2="1396" y1="281.65" y2="281.65" stroke="#3a3a3a" stroke-width="2.3"/>
<text x="1218.83" y="271.75" font-size="20" text-anchor="middle" fill="#222" stroke="#222" stroke-width="0.45">2014-05-14</text>
<line x1="1036.25" x2="1042.65" y1="461.2" y2="461.2" stroke="#3a3a3a" stroke-width="2.2"/>
<text transform="translate(1029.85,474) scale(0.975,1)" font-size="31" text-anchor="end" fill="#0d0d0d" stroke="#0d0d0d" stroke-width="0.6">0.0</text>
<line x1="1036.25" x2="1042.65" y1="413.63" y2="413.63" stroke="#3a3a3a" stroke-width="2.2"/>
<text transform="translate(1029.85,426.43) scale(0.975,1)" font-size="31" text-anchor="end" fill="#0d0d0d" stroke="#0d0d0d" stroke-width="0.6">2.5</text>
<line x1="1036.25" x2="1042.65" y1="366.07" y2="366.07" stroke="#3a3a3a" stroke-width="2.2"/>
<text transform="translate(1029.85,378.87) scale(0.975,1)" font-size="31" text-anchor="end" fill="#0d0d0d" stroke="#0d0d0d" stroke-width="0.6">5.0</text>
<line x1="1036.25" x2="1042.65" y1="318.5" y2="318.5" stroke="#3a3a3a" stroke-width="2.2"/>
<text transform="translate(1029.85,331.3) scale(0.975,1)" font-size="31" text-anchor="end" fill="#0d0d0d" stroke="#0d0d0d" stroke-width="0.6">7.5</text>
<polyline points="1057,461 1058.48,460.93 1059.96,460.85 1061.44,460.74 1062.91,460.6 1064.39,460.42 1065.87,460.21 1067.35,459.94 1068.83,459.62 1070.31,459.23 1071.79,458.77 1073.26,458.22 1074.74,457.59 1076.22,456.85 1077.7,456 1079.18,455.04 1080.66,453.97 1082.14,452.77 1083.61,451.47 1085.09,450.05 1086.57,448.54 1088.05,446.94 1089.53,445.27 1091.01,443.56 1092.49,441.82 1093.96,440.09 1095.44,438.4 1096.92,436.78 1098.4,435.26 1099.88,433.88 1101.36,432.66 1102.84,431.64 1104.31,430.84 1105.79,430.27 1107.27,429.96 1108.75,429.91 1110.23,430.1 1111.71,430.52 1113.19,431.17 1114.66,432.02 1116.14,433.06 1117.62,434.27 1119.1,435.62 1120.58,437.09 1122.06,438.64 1123.54,440.25 1125.01,441.9 1126.49,443.55 1127.97,445.18 1129.45,446.76 1130.93,448.29 1132.41,449.75 1133.89,451.12 1135.36,452.39 1136.84,453.55 1138.32,454.62 1139.8,455.58 1141.28,456.43 1142.76,457.19 1144.24,457.85 1145.71,458.42 1147.19,458.91 1148.67,459.33 1150.15,459.69 1151.63,459.98 1153.11,460.23 1154.59,460.43 1156.06,460.6 1157.54,460.73 1159.02,460.83 1160.5,460.92" fill="none" stroke="#000" stroke-width="1.7" stroke-linejoin="round" stroke-linecap="round"/>
<polyline points="1103.9,460.89 1105.4,460.84 1106.89,460.78 1108.39,460.72 1109.89,460.64 1111.38,460.56 1112.88,460.47 1114.37,460.37 1115.87,460.25 1117.37,460.12 1118.86,459.97 1120.36,459.81 1121.86,459.63 1123.35,459.42 1124.85,459.2 1126.35,458.95 1127.84,458.68 1129.34,458.38 1130.83,458.06 1132.33,457.7 1133.83,457.31 1135.32,456.88 1136.82,456.42 1138.32,455.93 1139.81,455.39 1141.31,454.81 1142.81,454.19 1144.3,453.52 1145.8,452.81 1147.29,452.06 1148.79,451.26 1150.29,450.41 1151.78,449.51 1153.28,448.57 1154.78,447.57 1156.27,446.54 1157.77,445.45 1159.27,444.33 1160.76,443.16 1162.26,441.95 1163.76,440.71 1165.25,439.43 1166.75,438.12 1168.24,436.78 1169.74,435.43 1171.24,434.05 1172.73,432.67 1174.23,431.27 1175.73,429.88 1177.22,428.49 1178.72,427.12 1180.22,425.76 1181.71,424.43 1183.21,423.13 1184.7,421.86 1186.2,420.65 1187.7,419.48 1189.19,418.38 1190.69,417.33 1192.19,416.36 1193.68,415.47 1195.18,414.66 1196.68,413.93 1198.17,413.3 1199.67,412.76 1201.16,412.32 1202.66,411.99 1204.16,411.75 1205.65,411.63 1207.15,411.6 1208.65,411.68 1210.14,411.85 1211.64,412.12 1213.14,412.48 1214.63,412.93 1216.13,413.47 1217.62,414.1 1219.12,414.8 1220.62,415.59 1222.11,416.44 1223.61,417.37 1225.11,418.36 1226.6,419.41 1228.1,420.51 1229.6,421.66 1231.09,422.85 1232.59,424.08 1234.08,425.34 1235.58,426.62 1237.08,427.92 1238.57,429.24 1240.07,430.56 1241.57,431.88 1243.06,433.2 1244.56,434.52 1246.06,435.82 1247.55,437.1 1249.05,438.36 1250.54,439.6 1252.04,440.82 1253.54,442 1255.03,443.14 1256.53,444.25 1258.03,445.33 1259.52,446.36 1261.02,447.36 1262.52,448.31 1264.01,449.22 1265.51,450.09 1267.01,450.91 1268.5,451.69 1270,452.43 1271.49,453.13 1272.99,453.79 1274.49,454.4 1275.98,454.98 1277.48,455.52 1278.98,456.02 1280.47,456.49 1281.97,456.92 1283.47,457.32 1284.96,457.69 1286.46,458.03 1287.95,458.35 1289.45,458.63 1290.95,458.9 1292.44,459.14 1293.94,459.36 1295.44,459.55 1296.93,459.73 1298.43,459.9 1299.93,460.04 1301.42,460.18 1302.92,460.3 1304.41,460.4 1305.91,460.5 1307.41,460.58 1308.9,460.66 1310.4,460.73" fill="none" stroke="#000" stroke-width="1.7" stroke-linejoin="round" stroke-linecap="round"/>
<text x="1113.2" y="424.5" font-size="20.5" font-weight="bold" text-anchor="middle" fill="#000" stroke="#000" stroke-width="0.6">3+</text>
<text x="1210.2" y="400" font-size="20.5" font-weight="bold" text-anchor="middle" fill="#000" stroke="#000" stroke-width="0.6">4+</text>
</g>
<g>
<rect x="1043.65" y="482.15" width="352.35" height="39.85" fill="#cfcfcf"/>
<rect x="1045.55" y="484.05" width="348.55" height="36.05" fill="none" stroke="#e3e3e3" stroke-width="1.2"/>
<line x1="1046.95" x2="1392.7" y1="677.75" y2="677.75" stroke="#ebebeb" stroke-width="1.8"/>
<line x1="1046.95" x2="1392.7" y1="630.25" y2="630.25" stroke="#ebebeb" stroke-width="1.8"/>
<line x1="1046.95" x2="1392.7" y1="582.75" y2="582.75" stroke="#ebebeb" stroke-width="1.8"/>
<line x1="1046.95" x2="1392.7" y1="535.25" y2="535.25" stroke="#ebebeb" stroke-width="1.8"/>
<line x1="1105" x2="1105" y1="525.3" y2="706.35" stroke="#ebebeb" stroke-width="1.8"/>
<line x1="1173.1" x2="1173.1" y1="525.3" y2="706.35" stroke="#ebebeb" stroke-width="1.8"/>
<line x1="1239.7" x2="1239.7" y1="525.3" y2="706.35" stroke="#ebebeb" stroke-width="1.8"/>
<line x1="1306.8" x2="1306.8" y1="525.3" y2="706.35" stroke="#ebebeb" stroke-width="1.8"/>
<line x1="1373.8" x2="1373.8" y1="525.3" y2="706.35" stroke="#ebebeb" stroke-width="1.8"/>
<line x1="1046.95" x2="1392.7" y1="701.5" y2="701.5" stroke="#e6e6e6" stroke-width="2"/>
<line x1="1046.95" x2="1392.7" y1="654" y2="654" stroke="#e6e6e6" stroke-width="2"/>
<line x1="1046.95" x2="1392.7" y1="606.5" y2="606.5" stroke="#e6e6e6" stroke-width="2"/>
<line x1="1046.95" x2="1392.7" y1="559" y2="559" stroke="#e6e6e6" stroke-width="2"/>
<line x1="1072.3" x2="1072.3" y1="525.3" y2="706.35" stroke="#e6e6e6" stroke-width="2"/>
<line x1="1139.1" x2="1139.1" y1="525.3" y2="706.35" stroke="#e6e6e6" stroke-width="2"/>
<line x1="1206.1" x2="1206.1" y1="525.3" y2="706.35" stroke="#e6e6e6" stroke-width="2"/>
<line x1="1272.5" x2="1272.5" y1="525.3" y2="706.35" stroke="#e6e6e6" stroke-width="2"/>
<line x1="1341" x2="1341" y1="525.3" y2="706.35" stroke="#e6e6e6" stroke-width="2"/>
<path d="M1112.4,701L1112.4,682.5L1139,682.5L1139,644.5L1165.6,644.5L1165.6,625.5L1192.2,625.5L1192.2,530.5L1218.8,530.5L1218.8,663.5L1245.4,663.5L1245.4,701ZM1272,701L1272,682.5L1298.6,682.5L1298.6,701Z" fill="#464646"/>
<rect x="1043.65" y="482.15" width="352.35" height="227.5" fill="none" stroke="#3a3a3a" stroke-width="2.3"/>
<line x1="1043.65" x2="1396" y1="522" y2="522" stroke="#3a3a3a" stroke-width="2.3"/>
<text x="1218.83" y="512.1" font-size="20" text-anchor="middle" fill="#222" stroke="#222" stroke-width="0.45">2014-07-25</text>
<line x1="1036.25" x2="1042.65" y1="701.5" y2="701.5" stroke="#3a3a3a" stroke-width="2.2"/>
<text transform="translate(1029.85,714.3) scale(0.975,1)" font-size="31" text-anchor="end" fill="#0d0d0d" stroke="#0d0d0d" stroke-width="0.6">0.0</text>
<line x1="1036.25" x2="1042.65" y1="654" y2="654" stroke="#3a3a3a" stroke-width="2.2"/>
<text transform="translate(1029.85,666.8) scale(0.975,1)" font-size="31" text-anchor="end" fill="#0d0d0d" stroke="#0d0d0d" stroke-width="0.6">2.5</text>
<line x1="1036.25" x2="1042.65" y1="606.5" y2="606.5" stroke="#3a3a3a" stroke-width="2.2"/>
<text transform="translate(1029.85,619.3) scale(0.975,1)" font-size="31" text-anchor="end" fill="#0d0d0d" stroke="#0d0d0d" stroke-width="0.6">5.0</text>
<line x1="1036.25" x2="1042.65" y1="559" y2="559" stroke="#3a3a3a" stroke-width="2.2"/>
<text transform="translate(1029.85,571.8) scale(0.975,1)" font-size="31" text-anchor="end" fill="#0d0d0d" stroke="#0d0d0d" stroke-width="0.6">7.5</text>
<polyline points="1094.5,701.14 1095.98,701.02 1097.47,700.86 1098.95,700.66 1100.43,700.4 1101.92,700.07 1103.4,699.66 1104.88,699.16 1106.36,698.55 1107.85,697.8 1109.33,696.91 1110.81,695.84 1112.3,694.59 1113.78,693.13 1115.26,691.45 1116.75,689.54 1118.23,687.38 1119.71,684.96 1121.2,682.3 1122.68,679.4 1124.16,676.27 1125.65,672.94 1127.13,669.45 1128.61,665.82 1130.09,662.13 1131.58,658.41 1133.06,654.74 1134.54,651.18 1136.03,647.8 1137.51,644.69 1138.99,641.89 1140.48,639.48 1141.96,637.52 1143.44,636.05 1144.93,635.1 1146.41,634.71 1147.89,634.86 1149.37,635.52 1150.86,636.67 1152.34,638.28 1153.82,640.32 1155.31,642.74 1156.79,645.49 1158.27,648.52 1159.76,651.76 1161.24,655.16 1162.72,658.66 1164.21,662.19 1165.69,665.7 1167.17,669.15 1168.65,672.49 1170.14,675.68 1171.62,678.69 1173.1,681.5 1174.59,684.1 1176.07,686.48 1177.55,688.63 1179.04,690.56 1180.52,692.27 1182,693.77 1183.49,695.07 1184.97,696.2 1186.45,697.16 1187.94,697.97 1189.42,698.66 1190.9,699.23 1192.38,699.69 1193.87,700.08 1195.35,700.39 1196.83,700.64 1198.32,700.83 1199.8,700.99" fill="none" stroke="#000" stroke-width="1.7" stroke-linejoin="round" stroke-linecap="round"/>
<polyline points="1119.7,700.99 1121.2,700.88 1122.69,700.74 1124.19,700.59 1125.69,700.4 1127.19,700.18 1128.68,699.93 1130.18,699.63 1131.68,699.28 1133.18,698.87 1134.67,698.4 1136.17,697.86 1137.67,697.23 1139.17,696.52 1140.66,695.7 1142.16,694.78 1143.66,693.73 1145.16,692.55 1146.65,691.22 1148.15,689.73 1149.65,688.08 1151.15,686.24 1152.64,684.21 1154.14,681.98 1155.64,679.52 1157.14,676.84 1158.63,673.93 1160.13,670.78 1161.63,667.37 1163.13,663.72 1164.62,659.81 1166.12,655.65 1167.62,651.25 1169.12,646.6 1170.62,641.72 1172.11,636.62 1173.61,631.32 1175.11,625.85 1176.61,620.21 1178.1,614.44 1179.6,608.57 1181.1,602.63 1182.6,596.67 1184.09,590.71 1185.59,584.8 1187.09,578.98 1188.59,573.3 1190.08,567.8 1191.58,562.52 1193.08,557.52 1194.58,552.83 1196.07,548.49 1197.57,544.55 1199.07,541.04 1200.57,538 1202.06,535.45 1203.56,533.42 1205.06,531.92 1206.56,530.98 1208.05,530.61 1209.55,530.75 1211.05,531.32 1212.55,532.3 1214.04,533.7 1215.54,535.5 1217.04,537.7 1218.54,540.26 1220.03,543.18 1221.53,546.44 1223.03,550 1224.53,553.85 1226.02,557.96 1227.52,562.31 1229.02,566.86 1230.52,571.58 1232.01,576.45 1233.51,581.44 1235.01,586.51 1236.51,591.65 1238,596.82 1239.5,601.99 1241,607.14 1242.5,612.25 1243.99,617.29 1245.49,622.24 1246.99,627.09 1248.49,631.82 1249.98,636.41 1251.48,640.84 1252.98,645.12 1254.48,649.22 1255.97,653.15 1257.47,656.89 1258.97,660.45 1260.47,663.81 1261.96,666.99 1263.46,669.98 1264.96,672.78 1266.46,675.39 1267.95,677.83 1269.45,680.09 1270.95,682.19 1272.45,684.12 1273.94,685.9 1275.44,687.53 1276.94,689.02 1278.44,690.38 1279.93,691.62 1281.43,692.74 1282.93,693.76 1284.43,694.67 1285.92,695.49 1287.42,696.22 1288.92,696.88 1290.42,697.46 1291.91,697.98 1293.41,698.44 1294.91,698.85 1296.41,699.21 1297.9,699.52 1299.4,699.8" fill="none" stroke="#000" stroke-width="1.7" stroke-linejoin="round" stroke-linecap="round"/>
<text x="1143" y="626.5" font-size="20.5" font-weight="bold" text-anchor="middle" fill="#000" stroke="#000" stroke-width="0.6">3+</text>
<text x="1250.1" y="555.8" font-size="20.5" font-weight="bold" text-anchor="middle" fill="#000" stroke="#000" stroke-width="0.6">4+</text>
</g>
<g>
<rect x="1043.65" y="721.15" width="352.35" height="39.5" fill="#cfcfcf"/>
<rect x="1045.55" y="723.05" width="348.55" height="35.7" fill="none" stroke="#e3e3e3" stroke-width="1.2"/>
<line x1="1046.95" x2="1392.7" y1="916.72" y2="916.72" stroke="#ebebeb" stroke-width="1.8"/>
<line x1="1046.95" x2="1392.7" y1="869.15" y2="869.15" stroke="#ebebeb" stroke-width="1.8"/>
<line x1="1046.95" x2="1392.7" y1="821.58" y2="821.58" stroke="#ebebeb" stroke-width="1.8"/>
<line x1="1046.95" x2="1392.7" y1="774.02" y2="774.02" stroke="#ebebeb" stroke-width="1.8"/>
<line x1="1105" x2="1105" y1="763.95" y2="946.7" stroke="#ebebeb" stroke-width="1.8"/>
<line x1="1173.1" x2="1173.1" y1="763.95" y2="946.7" stroke="#ebebeb" stroke-width="1.8"/>
<line x1="1239.7" x2="1239.7" y1="763.95" y2="946.7" stroke="#ebebeb" stroke-width="1.8"/>
<line x1="1306.8" x2="1306.8" y1="763.95" y2="946.7" stroke="#ebebeb" stroke-width="1.8"/>
<line x1="1373.8" x2="1373.8" y1="763.95" y2="946.7" stroke="#ebebeb" stroke-width="1.8"/>
<line x1="1046.95" x2="1392.7" y1="940.5" y2="940.5" stroke="#e6e6e6" stroke-width="2"/>
<line x1="1046.95" x2="1392.7" y1="892.93" y2="892.93" stroke="#e6e6e6" stroke-width="2"/>
<line x1="1046.95" x2="1392.7" y1="845.37" y2="845.37" stroke="#e6e6e6" stroke-width="2"/>
<line x1="1046.95" x2="1392.7" y1="797.8" y2="797.8" stroke="#e6e6e6" stroke-width="2"/>
<line x1="1072.3" x2="1072.3" y1="763.95" y2="946.7" stroke="#e6e6e6" stroke-width="2"/>
<line x1="1139.1" x2="1139.1" y1="763.95" y2="946.7" stroke="#e6e6e6" stroke-width="2"/>
<line x1="1206.1" x2="1206.1" y1="763.95" y2="946.7" stroke="#e6e6e6" stroke-width="2"/>
<line x1="1272.5" x2="1272.5" y1="763.95" y2="946.7" stroke="#e6e6e6" stroke-width="2"/>
<line x1="1341" x2="1341" y1="763.95" y2="946.7" stroke="#e6e6e6" stroke-width="2"/>
<path d="M1139,940L1139,902.45L1165.6,902.45L1165.6,921.47L1192.2,921.47L1192.2,883.42L1218.8,883.42L1218.8,902.45L1245.4,902.45L1245.4,864.39L1272,864.39L1272,845.37L1298.6,845.37L1298.6,921.47L1325.2,921.47L1325.2,921.47L1351.8,921.47L1351.8,921.47L1378.4,921.47L1378.4,940Z" fill="#464646"/>
<rect x="1043.65" y="721.15" width="352.35" height="228.85" fill="none" stroke="#3a3a3a" stroke-width="2.3"/>
<line x1="1043.65" x2="1396" y1="760.65" y2="760.65" stroke="#3a3a3a" stroke-width="2.3"/>
<text x="1218.83" y="750.75" font-size="20" text-anchor="middle" fill="#222" stroke="#222" stroke-width="0.45">2015-04-01</text>
<line x1="1036.25" x2="1042.65" y1="940.5" y2="940.5" stroke="#3a3a3a" stroke-width="2.2"/>
<text transform="translate(1029.85,953.3) scale(0.975,1)" font-size="31" text-anchor="end" fill="#0d0d0d" stroke="#0d0d0d" stroke-width="0.6">0.0</text>
<line x1="1036.25" x2="1042.65" y1="892.93" y2="892.93" stroke="#3a3a3a" stroke-width="2.2"/>
<text transform="translate(1029.85,905.73) scale(0.975,1)" font-size="31" text-anchor="end" fill="#0d0d0d" stroke="#0d0d0d" stroke-width="0.6">2.5</text>
<line x1="1036.25" x2="1042.65" y1="845.37" y2="845.37" stroke="#3a3a3a" stroke-width="2.2"/>
<text transform="translate(1029.85,858.17) scale(0.975,1)" font-size="31" text-anchor="end" fill="#0d0d0d" stroke="#0d0d0d" stroke-width="0.6">5.0</text>
<line x1="1036.25" x2="1042.65" y1="797.8" y2="797.8" stroke="#3a3a3a" stroke-width="2.2"/>
<text transform="translate(1029.85,810.6) scale(0.975,1)" font-size="31" text-anchor="end" fill="#0d0d0d" stroke="#0d0d0d" stroke-width="0.6">7.5</text>
<polyline points="1104,940.33 1105.49,940.27 1106.98,940.18 1108.47,940.06 1109.96,939.91 1111.45,939.71 1112.94,939.46 1114.43,939.14 1115.92,938.74 1117.41,938.25 1118.9,937.64 1120.39,936.91 1121.88,936.03 1123.37,934.99 1124.86,933.78 1126.35,932.38 1127.84,930.79 1129.33,928.99 1130.82,927 1132.31,924.82 1133.8,922.47 1135.29,919.97 1136.78,917.35 1138.27,914.65 1139.76,911.92 1141.25,909.21 1142.74,906.58 1144.23,904.09 1145.72,901.8 1147.21,899.77 1148.7,898.05 1150.19,896.69 1151.68,895.74 1153.17,895.21 1154.66,895.12 1156.15,895.44 1157.64,896.16 1159.13,897.26 1160.62,898.7 1162.11,900.45 1163.6,902.46 1165.09,904.7 1166.58,907.1 1168.07,909.62 1169.56,912.2 1171.05,914.79 1172.54,917.35 1174.03,919.85 1175.52,922.23 1177.01,924.49 1178.5,926.59 1179.99,928.52 1181.48,930.27 1182.97,931.85 1184.46,933.25 1185.95,934.47 1187.44,935.53 1188.93,936.45 1190.42,937.22 1191.91,937.87 1193.4,938.41 1194.89,938.85 1196.38,939.21 1197.87,939.5 1199.36,939.74 1200.85,939.92 1202.34,940.06 1203.83,940.17 1205.32,940.26 1206.81,940.32 1208.3,940.37" fill="none" stroke="#000" stroke-width="1.7" stroke-linejoin="round" stroke-linecap="round"/>
<polyline points="1142.3,940.12 1143.78,940.02 1145.27,939.9 1146.75,939.76 1148.24,939.58 1149.72,939.37 1151.21,939.12 1152.69,938.83 1154.18,938.48 1155.66,938.07 1157.15,937.59 1158.63,937.04 1160.12,936.4 1161.6,935.67 1163.08,934.84 1164.57,933.89 1166.05,932.83 1167.54,931.64 1169.02,930.32 1170.51,928.86 1171.99,927.26 1173.48,925.51 1174.96,923.62 1176.45,921.58 1177.93,919.41 1179.42,917.1 1180.9,914.67 1182.38,912.14 1183.87,909.51 1185.35,906.81 1186.84,904.05 1188.32,901.27 1189.81,898.5 1191.29,895.75 1192.78,893.06 1194.26,890.46 1195.75,887.99 1197.23,885.67 1198.72,883.54 1200.2,881.62 1201.68,879.94 1203.17,878.53 1204.65,877.41 1206.14,876.59 1207.62,876.08 1209.11,875.9 1210.59,876.03 1212.08,876.45 1213.56,877.16 1215.05,878.14 1216.53,879.39 1218.02,880.88 1219.5,882.61 1220.98,884.53 1222.47,886.64 1223.95,888.91 1225.44,891.3 1226.92,893.8 1228.41,896.37 1229.89,898.99 1231.38,901.63 1232.86,904.27 1234.35,906.88 1235.83,909.45 1237.32,911.95 1238.8,914.37 1240.28,916.69 1241.77,918.91 1243.25,921 1244.74,922.98 1246.22,924.82 1247.71,926.54 1249.19,928.12 1250.68,929.58 1252.16,930.9 1253.65,932.11 1255.13,933.19 1256.62,934.17 1258.1,935.04 1259.58,935.81 1261.07,936.49 1262.55,937.09 1264.04,937.61 1265.52,938.06 1267.01,938.45 1268.49,938.79 1269.98,939.08 1271.46,939.32 1272.95,939.53 1274.43,939.7 1275.92,939.85 1277.4,939.97" fill="none" stroke="#000" stroke-width="1.7" stroke-linejoin="round" stroke-linecap="round"/>
<polyline points="1191,939.93 1192.49,939.82 1193.98,939.7 1195.47,939.55 1196.95,939.38 1198.44,939.18 1199.93,938.95 1201.42,938.69 1202.91,938.39 1204.4,938.05 1205.88,937.66 1207.37,937.21 1208.86,936.71 1210.35,936.15 1211.84,935.51 1213.33,934.8 1214.81,934 1216.3,933.12 1217.79,932.14 1219.28,931.06 1220.77,929.87 1222.26,928.56 1223.75,927.13 1225.23,925.58 1226.72,923.89 1228.21,922.07 1229.7,920.11 1231.19,918 1232.68,915.74 1234.16,913.34 1235.65,910.8 1237.14,908.11 1238.63,905.28 1240.12,902.31 1241.61,899.22 1243.1,896 1244.58,892.68 1246.07,889.25 1247.56,885.74 1249.05,882.16 1250.54,878.53 1252.03,874.86 1253.51,871.18 1255,867.5 1256.49,863.86 1257.98,860.26 1259.47,856.75 1260.96,853.33 1262.44,850.04 1263.93,846.9 1265.42,843.93 1266.91,841.15 1268.4,838.6 1269.89,836.29 1271.38,834.23 1272.86,832.45 1274.35,830.95 1275.84,829.76 1277.33,828.89 1278.82,828.34 1280.31,828.11 1281.79,828.2 1283.28,828.58 1284.77,829.26 1286.26,830.22 1287.75,831.46 1289.24,832.98 1290.72,834.75 1292.21,836.76 1293.7,839 1295.19,841.46 1296.68,844.11 1298.17,846.94 1299.66,849.92 1301.14,853.04 1302.63,856.28 1304.12,859.6 1305.61,863.01 1307.1,866.46 1308.59,869.94 1310.07,873.44 1311.56,876.93 1313.05,880.4 1314.54,883.83 1316.03,887.21 1317.52,890.51 1319,893.73 1320.49,896.86 1321.98,899.89 1323.47,902.81 1324.96,905.61 1326.45,908.29 1327.94,910.84 1329.42,913.26 1330.91,915.54 1332.4,917.7 1333.89,919.73 1335.38,921.62 1336.87,923.39 1338.35,925.03 1339.84,926.55 1341.33,927.96 1342.82,929.25 1344.31,930.44 1345.8,931.52 1347.29,932.51 1348.77,933.41 1350.26,934.22 1351.75,934.96 1353.24,935.62 1354.73,936.21 1356.22,936.75 1357.7,937.22 1359.19,937.64 1360.68,938.02 1362.17,938.35 1363.66,938.64 1365.15,938.9 1366.63,939.12 1368.12,939.32 1369.61,939.49 1371.1,939.64" fill="none" stroke="#000" stroke-width="1.7" stroke-linejoin="round" stroke-linecap="round"/>
<text x="1155.2" y="885.3" font-size="20.5" font-weight="bold" text-anchor="middle" fill="#000" stroke="#000" stroke-width="0.6">3+</text>
<text x="1210.2" y="865.8" font-size="20.5" font-weight="bold" text-anchor="middle" fill="#000" stroke="#000" stroke-width="0.6">4+</text>
<text x="1284.5" y="818.7" font-size="20.5" font-weight="bold" text-anchor="middle" fill="#000" stroke="#000" stroke-width="0.6">5+</text>
</g>
<g>
<rect x="1043.65" y="961.5" width="352.35" height="39.65" fill="#cfcfcf"/>
<rect x="1045.55" y="963.4" width="348.55" height="35.85" fill="none" stroke="#e3e3e3" stroke-width="1.2"/>
<line x1="1046.95" x2="1392.7" y1="1156.92" y2="1156.92" stroke="#ebebeb" stroke-width="1.8"/>
<line x1="1046.95" x2="1392.7" y1="1109.35" y2="1109.35" stroke="#ebebeb" stroke-width="1.8"/>
<line x1="1046.95" x2="1392.7" y1="1061.78" y2="1061.78" stroke="#ebebeb" stroke-width="1.8"/>
<line x1="1046.95" x2="1392.7" y1="1014.22" y2="1014.22" stroke="#ebebeb" stroke-width="1.8"/>
<line x1="1105" x2="1105" y1="1004.45" y2="1184.95" stroke="#ebebeb" stroke-width="1.8"/>
<line x1="1173.1" x2="1173.1" y1="1004.45" y2="1184.95" stroke="#ebebeb" stroke-width="1.8"/>
<line x1="1239.7" x2="1239.7" y1="1004.45" y2="1184.95" stroke="#ebebeb" stroke-width="1.8"/>
<line x1="1306.8" x2="1306.8" y1="1004.45" y2="1184.95" stroke="#ebebeb" stroke-width="1.8"/>
<line x1="1373.8" x2="1373.8" y1="1004.45" y2="1184.95" stroke="#ebebeb" stroke-width="1.8"/>
<line x1="1046.95" x2="1392.7" y1="1180.7" y2="1180.7" stroke="#e6e6e6" stroke-width="2"/>
<line x1="1046.95" x2="1392.7" y1="1133.13" y2="1133.13" stroke="#e6e6e6" stroke-width="2"/>
<line x1="1046.95" x2="1392.7" y1="1085.57" y2="1085.57" stroke="#e6e6e6" stroke-width="2"/>
<line x1="1046.95" x2="1392.7" y1="1038" y2="1038" stroke="#e6e6e6" stroke-width="2"/>
<line x1="1072.3" x2="1072.3" y1="1004.45" y2="1184.95" stroke="#e6e6e6" stroke-width="2"/>
<line x1="1139.1" x2="1139.1" y1="1004.45" y2="1184.95" stroke="#e6e6e6" stroke-width="2"/>
<line x1="1206.1" x2="1206.1" y1="1004.45" y2="1184.95" stroke="#e6e6e6" stroke-width="2"/>
<line x1="1272.5" x2="1272.5" y1="1004.45" y2="1184.95" stroke="#e6e6e6" stroke-width="2"/>
<line x1="1341" x2="1341" y1="1004.45" y2="1184.95" stroke="#e6e6e6" stroke-width="2"/>
<path d="M1112.4,1180.2L1112.4,1123.62L1139,1123.62L1139,1161.67L1165.6,1161.67L1165.6,1066.54L1192.2,1066.54L1192.2,1028.49L1218.8,1028.49L1218.8,1104.59L1245.4,1104.59L1245.4,1123.62L1272,1123.62L1272,1161.67L1298.6,1161.67L1298.6,1142.65L1325.2,1142.65L1325.2,1180.2Z" fill="#464646"/>
<rect x="1043.65" y="961.5" width="352.35" height="226.75" fill="none" stroke="#3a3a3a" stroke-width="2.3"/>
<line x1="1043.65" x2="1396" y1="1001.15" y2="1001.15" stroke="#3a3a3a" stroke-width="2.3"/>
<text x="1218.83" y="991.25" font-size="20" text-anchor="middle" fill="#222" stroke="#222" stroke-width="0.45">2015-08-27</text>
<line x1="1036.25" x2="1042.65" y1="1180.7" y2="1180.7" stroke="#3a3a3a" stroke-width="2.2"/>
<text transform="translate(1029.85,1193.5) scale(0.975,1)" font-size="31" text-anchor="end" fill="#0d0d0d" stroke="#0d0d0d" stroke-width="0.6">0.0</text>
<line x1="1036.25" x2="1042.65" y1="1133.13" y2="1133.13" stroke="#3a3a3a" stroke-width="2.2"/>
<text transform="translate(1029.85,1145.93) scale(0.975,1)" font-size="31" text-anchor="end" fill="#0d0d0d" stroke="#0d0d0d" stroke-width="0.6">2.5</text>
<line x1="1036.25" x2="1042.65" y1="1085.57" y2="1085.57" stroke="#3a3a3a" stroke-width="2.2"/>
<text transform="translate(1029.85,1098.37) scale(0.975,1)" font-size="31" text-anchor="end" fill="#0d0d0d" stroke="#0d0d0d" stroke-width="0.6">5.0</text>
<line x1="1036.25" x2="1042.65" y1="1038" y2="1038" stroke="#3a3a3a" stroke-width="2.2"/>
<text transform="translate(1029.85,1050.8) scale(0.975,1)" font-size="31" text-anchor="end" fill="#0d0d0d" stroke="#0d0d0d" stroke-width="0.6">7.5</text>
<polyline points="1072.5,1180.46 1073.98,1180.37 1075.47,1180.26 1076.95,1180.12 1078.44,1179.93 1079.92,1179.7 1081.4,1179.4 1082.89,1179.04 1084.37,1178.58 1085.86,1178.02 1087.34,1177.35 1088.82,1176.53 1090.31,1175.56 1091.79,1174.42 1093.28,1173.08 1094.76,1171.53 1096.24,1169.75 1097.73,1167.74 1099.21,1165.48 1100.7,1162.96 1102.18,1160.2 1103.66,1157.19 1105.15,1153.97 1106.63,1150.54 1108.12,1146.94 1109.6,1143.23 1111.08,1139.43 1112.57,1135.62 1114.05,1131.85 1115.54,1128.19 1117.02,1124.7 1118.5,1121.47 1119.99,1118.55 1121.47,1116.01 1122.96,1113.91 1124.44,1112.3 1125.92,1111.2 1127.41,1110.66 1128.89,1110.67 1130.38,1111.2 1131.86,1112.22 1133.34,1113.71 1134.83,1115.65 1136.31,1117.99 1137.8,1120.68 1139.28,1123.67 1140.76,1126.91 1142.25,1130.33 1143.73,1133.88 1145.22,1137.49 1146.7,1141.11 1148.18,1144.69 1149.67,1148.19 1151.15,1151.55 1152.64,1154.76 1154.12,1157.78 1155.6,1160.6 1157.09,1163.2 1158.57,1165.57 1160.06,1167.72 1161.54,1169.64 1163.02,1171.35 1164.51,1172.85 1165.99,1174.15 1167.48,1175.28 1168.96,1176.25 1170.44,1177.07 1171.93,1177.76 1173.41,1178.34 1174.9,1178.82 1176.38,1179.21 1177.86,1179.53 1179.35,1179.78 1180.83,1179.99 1182.32,1180.15 1183.8,1180.28" fill="none" stroke="#000" stroke-width="1.7" stroke-linejoin="round" stroke-linecap="round"/>
<polyline points="1119.7,1180.28 1121.2,1180.19 1122.69,1180.08 1124.19,1179.95 1125.69,1179.79 1127.19,1179.6 1128.68,1179.38 1130.18,1179.12 1131.68,1178.82 1133.18,1178.46 1134.67,1178.05 1136.17,1177.56 1137.67,1177.01 1139.17,1176.37 1140.66,1175.64 1142.16,1174.8 1143.66,1173.85 1145.16,1172.77 1146.65,1171.56 1148.15,1170.19 1149.65,1168.67 1151.15,1166.97 1152.64,1165.08 1154.14,1162.99 1155.64,1160.69 1157.14,1158.17 1158.63,1155.42 1160.13,1152.43 1161.63,1149.19 1163.13,1145.71 1164.62,1141.97 1166.12,1137.98 1167.62,1133.73 1169.12,1129.25 1170.62,1124.52 1172.11,1119.58 1173.61,1114.42 1175.11,1109.08 1176.61,1103.56 1178.1,1097.91 1179.6,1092.15 1181.1,1086.31 1182.6,1080.43 1184.09,1074.54 1185.59,1068.7 1187.09,1062.94 1188.59,1057.3 1190.08,1051.83 1191.58,1046.58 1193.08,1041.6 1194.58,1036.92 1196.07,1032.6 1197.57,1028.66 1199.07,1025.15 1200.57,1022.11 1202.06,1019.56 1203.56,1017.52 1205.06,1016.03 1206.56,1015.09 1208.05,1014.71 1209.55,1014.87 1211.05,1015.52 1212.55,1016.65 1214.04,1018.25 1215.54,1020.31 1217.04,1022.81 1218.54,1025.73 1220.03,1029.04 1221.53,1032.72 1223.03,1036.73 1224.53,1041.04 1226.02,1045.63 1227.52,1050.44 1229.02,1055.46 1230.52,1060.63 1232.01,1065.93 1233.51,1071.32 1235.01,1076.76 1236.51,1082.22 1238,1087.67 1239.5,1093.08 1241,1098.41 1242.5,1103.65 1243.99,1108.76 1245.49,1113.74 1246.99,1118.55 1248.49,1123.18 1249.98,1127.63 1251.48,1131.88 1252.98,1135.92 1254.48,1139.74 1255.97,1143.35 1257.47,1146.74 1258.97,1149.92 1260.47,1152.88 1261.96,1155.63 1263.46,1158.17 1264.96,1160.51 1266.46,1162.67 1267.95,1164.64 1269.45,1166.44 1270.95,1168.07 1272.45,1169.55 1273.94,1170.89 1275.44,1172.09 1276.94,1173.16 1278.44,1174.12 1279.93,1174.98 1281.43,1175.74 1282.93,1176.41 1284.43,1177 1285.92,1177.52 1287.42,1177.97 1288.92,1178.37 1290.42,1178.71 1291.91,1179.01 1293.41,1179.27 1294.91,1179.49 1296.41,1179.68 1297.9,1179.85 1299.4,1179.98" fill="none" stroke="#000" stroke-width="1.7" stroke-linejoin="round" stroke-linecap="round"/>
<polyline points="1256,1180.54 1257.49,1180.49 1258.99,1180.42 1260.48,1180.33 1261.97,1180.21 1263.47,1180.07 1264.96,1179.88 1266.45,1179.66 1267.95,1179.38 1269.44,1179.04 1270.94,1178.63 1272.43,1178.13 1273.92,1177.54 1275.42,1176.85 1276.91,1176.04 1278.4,1175.1 1279.9,1174.02 1281.39,1172.79 1282.88,1171.42 1284.38,1169.88 1285.87,1168.19 1287.36,1166.34 1288.86,1164.34 1290.35,1162.21 1291.84,1159.96 1293.34,1157.61 1294.83,1155.19 1296.32,1152.73 1297.82,1150.26 1299.31,1147.83 1300.81,1145.48 1302.3,1143.24 1303.79,1141.17 1305.29,1139.3 1306.78,1137.66 1308.27,1136.31 1309.77,1135.26 1311.26,1134.53 1312.75,1134.16 1314.25,1134.13 1315.74,1134.43 1317.23,1135.04 1318.73,1135.95 1320.22,1137.15 1321.71,1138.6 1323.21,1140.29 1324.7,1142.17 1326.19,1144.22 1327.69,1146.39 1329.18,1148.66 1330.68,1150.99 1332.17,1153.33 1333.66,1155.66 1335.16,1157.95 1336.65,1160.17 1338.14,1162.31 1339.64,1164.33 1341.13,1166.23 1342.62,1168 1344.12,1169.63 1345.61,1171.11 1347.1,1172.46 1348.6,1173.66 1350.09,1174.73 1351.58,1175.67 1353.08,1176.49 1354.57,1177.21 1356.06,1177.82 1357.56,1178.34 1359.05,1178.78 1360.55,1179.15 1362.04,1179.45 1363.53,1179.71 1365.03,1179.91 1366.52,1180.08 1368.01,1180.22 1369.51,1180.33 1371,1180.41" fill="none" stroke="#000" stroke-width="1.7" stroke-linejoin="round" stroke-linecap="round"/>
<text x="1131" y="1095.8" font-size="20.5" font-weight="bold" text-anchor="middle" fill="#000" stroke="#000" stroke-width="0.6">3+</text>
<text x="1247.2" y="1036.7" font-size="20.5" font-weight="bold" text-anchor="middle" fill="#000" stroke="#000" stroke-width="0.6">4+</text>
<text x="1317" y="1120.9" font-size="20.5" font-weight="bold" text-anchor="middle" fill="#000" stroke="#000" stroke-width="0.6">5+</text>
</g>
<line x1="1072.3" x2="1072.3" y1="1189.25" y2="1194.85" stroke="#3a3a3a" stroke-width="2.2"/>
<text transform="translate(1071.4,1224.85) scale(0.975,1)" font-size="31" text-anchor="middle" fill="#0d0d0d" stroke="#0d0d0d" stroke-width="0.6">20</text>
<line x1="1139.1" x2="1139.1" y1="1189.25" y2="1194.85" stroke="#3a3a3a" stroke-width="2.2"/>
<text transform="translate(1138.2,1224.85) scale(0.975,1)" font-size="31" text-anchor="middle" fill="#0d0d0d" stroke="#0d0d0d" stroke-width="0.6">25</text>
<line x1="1206.1" x2="1206.1" y1="1189.25" y2="1194.85" stroke="#3a3a3a" stroke-width="2.2"/>
<text transform="translate(1205.2,1224.85) scale(0.975,1)" font-size="31" text-anchor="middle" fill="#0d0d0d" stroke="#0d0d0d" stroke-width="0.6">30</text>
<line x1="1272.5" x2="1272.5" y1="1189.25" y2="1194.85" stroke="#3a3a3a" stroke-width="2.2"/>
<text transform="translate(1271.6,1224.85) scale(0.975,1)" font-size="31" text-anchor="middle" fill="#0d0d0d" stroke="#0d0d0d" stroke-width="0.6">35</text>
<line x1="1341" x2="1341" y1="1189.25" y2="1194.85" stroke="#3a3a3a" stroke-width="2.2"/>
<text transform="translate(1340.1,1224.85) scale(0.975,1)" font-size="31" text-anchor="middle" fill="#0d0d0d" stroke="#0d0d0d" stroke-width="0.6">40</text>
<text transform="translate(261,1263.8) scale(1,1.06)" font-size="32.25" font-weight="bold" text-anchor="middle" fill="#000" stroke="#000" stroke-width="0.6">CL (mm)</text>
<text transform="translate(752.4,1263.8) scale(1,1.06)" font-size="32.8" font-weight="bold" text-anchor="middle" fill="#000" stroke="#000" stroke-width="0.6">LF Index (ng µg<tspan font-size="21" dy="-16">-1</tspan><tspan dy="16">)</tspan></text>
<text transform="translate(1219,1263.8) scale(1,1.06)" font-size="32.7" font-weight="bold" text-anchor="middle" fill="#000" stroke="#000" stroke-width="0.6">Gastric Mill Lamellae #</text>
<text transform="translate(25.9,616.5) rotate(-90) scale(1,1.04)" font-size="31.5" font-weight="bold" text-anchor="middle" fill="#000" stroke="#000" stroke-width="0.6">Frequency</text>
</svg>
</body></html>
